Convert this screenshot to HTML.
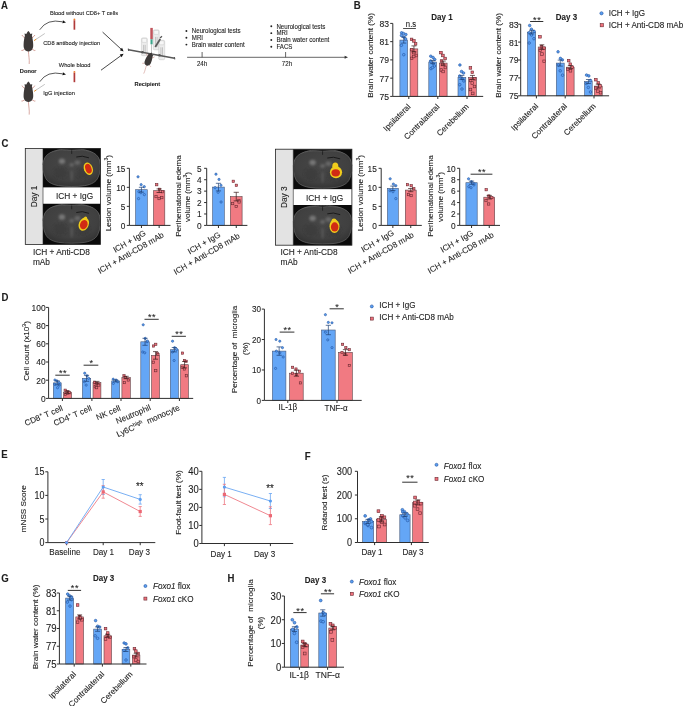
<!DOCTYPE html>
<html><head><meta charset="utf-8"><title>Figure</title>
<style>
html,body{margin:0;padding:0;background:#fff;}
body{width:685px;height:706px;overflow:hidden;}
svg{display:block;font-family:'Liberation Sans', Arial, sans-serif;}
text{stroke:#1e1e1e;stroke-width:0.1px;}
</style></head><body>
<svg width="685" height="706" viewBox="0 0 685 706">
<defs><filter id="blur1" x="-50%" y="-50%" width="200%" height="200%"><feGaussianBlur stdDeviation="1.2"/></filter>
<radialGradient id="brainGrad" cx="0.5" cy="0.4" r="0.6"><stop offset="0" stop-color="#474747"/><stop offset="0.75" stop-color="#404040"/><stop offset="1" stop-color="#353535"/></radialGradient></defs>
<rect width="685" height="706" fill="#fff"/>
<text x="1" y="8.9" font-size="9.6" text-anchor="start" font-weight="bold" fill="#1e1e1e" transform="matrix(1,0,0,1.07,0,-0.39)">A</text>
<text x="49.9" y="14.82" font-size="5.7" text-anchor="start" fill="#1e1e1e" transform="matrix(1,0,0,1.07,0,-0.9)">Blood without CD8+ T cells</text>
<text x="43.2" y="44.42" font-size="5.7" text-anchor="start" fill="#1e1e1e" transform="matrix(1,0,0,1.07,0,-2.97)">CD8 antibody injection</text>
<text x="58.8" y="66.42" font-size="5.7" text-anchor="start" fill="#1e1e1e" transform="matrix(1,0,0,1.07,0,-4.51)">Whole blood</text>
<text x="43.2" y="94.72" font-size="5.7" text-anchor="start" fill="#1e1e1e" transform="matrix(1,0,0,1.07,0,-6.49)">IgG injection</text>
<text x="28.2" y="73" font-size="5.7" text-anchor="middle" font-weight="bold" fill="#1e1e1e" transform="matrix(1,0,0,1.07,0,-4.97)">Donor</text>
<text x="147.4" y="85.7" font-size="5.7" text-anchor="middle" font-weight="bold" fill="#1e1e1e" transform="matrix(1,0,0,1.07,0,-5.86)">Recipient</text>
<g transform="translate(28.4 31) rotate(0) scale(1)">
<path d="M-3.2,7.2 L-5.9,5.0 L-6.4,4.0" stroke="#c47c72" stroke-width="0.7" fill="none"/>
<path d="M-3.8,18.4 L-6.4,19.6 L-7,19.4" stroke="#c47c72" stroke-width="0.7" fill="none"/>
<path d="M3.2,7.2 L5.9,5.0 L6.4,4.0" stroke="#c47c72" stroke-width="0.7" fill="none"/>
<path d="M3.8,18.4 L6.4,19.6 L7,19.4" stroke="#c47c72" stroke-width="0.7" fill="none"/>
<path d="M0,20 C0.2,25 1.2,28 0.8,33" stroke="#c47c72" stroke-width="0.65" fill="none"/>
<path d="M0,0 C0.7,0.5 1.6,2.0 2.1,3.0 L3.9,2.6 L3.5,4.8 C4.0,6.5 4.7,10 4.8,13.5 C5.0,17.4 3.7,20.2 0,20.4 C-3.7,20.2 -5.0,17.4 -4.8,13.5 C-4.7,10 -4.0,6.5 -3.5,4.8 L-3.9,2.6 L-2.1,3.0 C-1.6,2.0 -0.7,0.5 0,0 Z" fill="#3d3938"/>
</g>
<g transform="translate(28.4 81.6) rotate(0) scale(1)">
<path d="M-3.2,7.2 L-5.9,5.0 L-6.4,4.0" stroke="#c47c72" stroke-width="0.7" fill="none"/>
<path d="M-3.8,18.4 L-6.4,19.6 L-7,19.4" stroke="#c47c72" stroke-width="0.7" fill="none"/>
<path d="M3.2,7.2 L5.9,5.0 L6.4,4.0" stroke="#c47c72" stroke-width="0.7" fill="none"/>
<path d="M3.8,18.4 L6.4,19.6 L7,19.4" stroke="#c47c72" stroke-width="0.7" fill="none"/>
<path d="M0,20 C0.2,25 1.2,28 0.8,33" stroke="#c47c72" stroke-width="0.65" fill="none"/>
<path d="M0,0 C0.7,0.5 1.6,2.0 2.1,3.0 L3.9,2.6 L3.5,4.8 C4.0,6.5 4.7,10 4.8,13.5 C5.0,17.4 3.7,20.2 0,20.4 C-3.7,20.2 -5.0,17.4 -4.8,13.5 C-4.7,10 -4.0,6.5 -3.5,4.8 L-3.9,2.6 L-2.1,3.0 C-1.6,2.0 -0.7,0.5 0,0 Z" fill="#3d3938"/>
</g>
<line x1="36" y1="39.3" x2="44.8" y2="33.5" stroke="#a8a8a8" stroke-width="0.7"/>
<line x1="34.1" y1="40.6" x2="36.2" y2="39.2" stroke="#e8902a" stroke-width="1"/>
<line x1="36" y1="90.1" x2="44.8" y2="84.3" stroke="#a8a8a8" stroke-width="0.7"/>
<line x1="34.1" y1="91.4" x2="36.2" y2="90" stroke="#e8902a" stroke-width="1"/>
<path d="M39.7,29.8 Q47,18.5 62.5,21.8" stroke="#222" stroke-width="0.75" fill="none"/>
<path d="M66,22.4 L62.39,23.32 L62.92,20.3 Z" fill="#111"/>
<path d="M39.7,81.8 Q47,70.5 62.5,73.8" stroke="#222" stroke-width="0.75" fill="none"/>
<path d="M66,74.4 L62.39,75.32 L62.92,72.3 Z" fill="#111"/>
<line x1="74.4" y1="20.2" x2="74.4" y2="29.7" stroke="#b03a3a" stroke-width="1.7"/>
<circle cx="74.4" cy="19.4" r="0.95" fill="#ec7d2c"/>
<line x1="74.4" y1="72.7" x2="74.4" y2="82.2" stroke="#b03a3a" stroke-width="1.7"/>
<circle cx="74.4" cy="71.9" r="0.95" fill="#ec7d2c"/>
<line x1="102.6" y1="32.1" x2="121.4" y2="49.4" stroke="#1a1a1a" stroke-width="0.8"/>
<path d="M123.6,51.4 L119.85,50.16 L122.05,47.77 Z" fill="#111"/>
<line x1="101" y1="70.2" x2="121.4" y2="55.3" stroke="#1a1a1a" stroke-width="0.8"/>
<path d="M123.6,53.7 L121.65,57.13 L119.74,54.51 Z" fill="#111"/>
<rect x="141.4" y="37.9" width="5.9" height="17.8" rx="1.2" fill="#ececec" stroke="#c4c4c4" stroke-width="0.5"/>
<rect x="142" y="38.4" width="4.7" height="4" rx="0.8" fill="#f7f7f7" stroke="#bdbdbd" stroke-width="0.4"/>
<line x1="143.6" y1="44.9" x2="143.6" y2="52.7" stroke="#9a9a9a" stroke-width="0.5"/>
<line x1="145.2" y1="44.9" x2="145.2" y2="52.7" stroke="#9a9a9a" stroke-width="0.5"/>
<rect x="153.3" y="29.9" width="5.9" height="19.9" rx="1.2" fill="#ececec" stroke="#c4c4c4" stroke-width="0.5"/>
<rect x="153.9" y="30.4" width="4.7" height="4" rx="0.8" fill="#f7f7f7" stroke="#bdbdbd" stroke-width="0.4"/>
<line x1="155.5" y1="36.9" x2="155.5" y2="46.8" stroke="#9a9a9a" stroke-width="0.5"/>
<line x1="157.1" y1="36.9" x2="157.1" y2="46.8" stroke="#9a9a9a" stroke-width="0.5"/>
<rect x="158.7" y="40.3" width="6" height="19.4" rx="1.2" fill="#ececec" stroke="#c4c4c4" stroke-width="0.5"/>
<rect x="159.3" y="40.8" width="4.8" height="4" rx="0.8" fill="#f7f7f7" stroke="#bdbdbd" stroke-width="0.4"/>
<line x1="160.9" y1="47.3" x2="160.9" y2="56.7" stroke="#9a9a9a" stroke-width="0.5"/>
<line x1="162.5" y1="47.3" x2="162.5" y2="56.7" stroke="#9a9a9a" stroke-width="0.5"/>
<path d="M154.5,46.5 L159.5,38.5 L161,39.5 L156,47.5 Z" fill="#5a5a5a"/>
<path d="M160,38 L162,36.2" stroke="#555" stroke-width="1.2"/>
<line x1="128.5" y1="49.8" x2="174.6" y2="58.2" stroke="#585858" stroke-width="1.5"/>
<line x1="128.3" y1="48.6" x2="128.7" y2="51" stroke="#585858" stroke-width="1.2"/>
<line x1="174.3" y1="57" x2="174.8" y2="59.4" stroke="#585858" stroke-width="1.2"/>
<circle cx="142.5" cy="52.2" r="1.2" fill="#555"/>
<circle cx="159.5" cy="55.3" r="1.2" fill="#555"/>
<rect x="150.3" y="27.9" width="2.5" height="11.4" fill="#c0545c" stroke="none" stroke-width="0.6"/>
<rect x="150.5" y="39.3" width="2.1" height="5" fill="#3aa58a" stroke="none" stroke-width="0.6"/>
<line x1="151.5" y1="44.3" x2="151.5" y2="53.5" stroke="#888" stroke-width="0.5"/>
<g transform="translate(151.6 52.6) rotate(22) scale(0.68)">
<path d="M-3.2,7.2 L-5.9,5.0 L-6.4,4.0" stroke="#c47c72" stroke-width="0.7" fill="none"/>
<path d="M-3.8,18.4 L-6.4,19.6 L-7,19.4" stroke="#c47c72" stroke-width="0.7" fill="none"/>
<path d="M3.2,7.2 L5.9,5.0 L6.4,4.0" stroke="#c47c72" stroke-width="0.7" fill="none"/>
<path d="M3.8,18.4 L6.4,19.6 L7,19.4" stroke="#c47c72" stroke-width="0.7" fill="none"/>
<path d="M0,20 C0.2,25 1.2,28 0.8,33" stroke="#c47c72" stroke-width="0.65" fill="none"/>
<path d="M0,0 C0.7,0.5 1.6,2.0 2.1,3.0 L3.9,2.6 L3.5,4.8 C4.0,6.5 4.7,10 4.8,13.5 C5.0,17.4 3.7,20.2 0,20.4 C-3.7,20.2 -5.0,17.4 -4.8,13.5 C-4.7,10 -4.0,6.5 -3.5,4.8 L-3.9,2.6 L-2.1,3.0 C-1.6,2.0 -0.7,0.5 0,0 Z" fill="#3d3938"/>
</g>
<line x1="187.1" y1="57.3" x2="345.5" y2="57.3" stroke="#333" stroke-width="0.75"/>
<path d="M348,57.3 L344.6,58.83 L344.6,55.77 Z" fill="#333"/>
<line x1="202.1" y1="52" x2="202.1" y2="57.3" stroke="#333" stroke-width="0.75"/>
<line x1="285.6" y1="52" x2="285.6" y2="57.3" stroke="#333" stroke-width="0.75"/>
<text x="202.1" y="66.08" font-size="6.15" text-anchor="middle" fill="#1e1e1e" transform="matrix(1,0,0,1.07,0,-4.48)">24h</text>
<text x="287" y="66.08" font-size="6.15" text-anchor="middle" fill="#1e1e1e" transform="matrix(1,0,0,1.07,0,-4.48)">72h</text>
<circle cx="186.4" cy="31" r="0.95" fill="#222"/>
<text x="191.8" y="33.18" font-size="6.15" text-anchor="start" fill="#1e1e1e" transform="matrix(1,0,0,1.07,0,-2.17)">Neurological tests</text>
<circle cx="186.4" cy="37.8" r="0.95" fill="#222"/>
<text x="191.8" y="39.98" font-size="6.15" text-anchor="start" fill="#1e1e1e" transform="matrix(1,0,0,1.07,0,-2.65)">MRI</text>
<circle cx="186.4" cy="44.6" r="0.95" fill="#222"/>
<text x="191.8" y="46.78" font-size="6.15" text-anchor="start" fill="#1e1e1e" transform="matrix(1,0,0,1.07,0,-3.12)">Brain water content</text>
<circle cx="271.3" cy="26.3" r="0.95" fill="#222"/>
<text x="276.4" y="28.48" font-size="6.15" text-anchor="start" fill="#1e1e1e" transform="matrix(1,0,0,1.07,0,-1.84)">Neurological tests</text>
<circle cx="271.3" cy="33.13" r="0.95" fill="#222"/>
<text x="276.4" y="35.31" font-size="6.15" text-anchor="start" fill="#1e1e1e" transform="matrix(1,0,0,1.07,0,-2.32)">MRI</text>
<circle cx="271.3" cy="39.96" r="0.95" fill="#222"/>
<text x="276.4" y="42.14" font-size="6.15" text-anchor="start" fill="#1e1e1e" transform="matrix(1,0,0,1.07,0,-2.8)">Brain water content</text>
<circle cx="271.3" cy="46.79" r="0.95" fill="#222"/>
<text x="276.4" y="48.97" font-size="6.15" text-anchor="start" fill="#1e1e1e" transform="matrix(1,0,0,1.07,0,-3.28)">FACS</text>
<text x="353.8" y="9" font-size="9.6" text-anchor="start" font-weight="bold" fill="#1e1e1e" transform="matrix(1,0,0,1.07,0,-0.39)">B</text>
<line x1="392.8" y1="23.4" x2="392.8" y2="96.4" stroke="#2e2e2e" stroke-width="1"/>
<line x1="390.2" y1="23.4" x2="392.8" y2="23.4" stroke="#2e2e2e" stroke-width="1"/>
<text x="389" y="26.46" font-size="8.63" text-anchor="end" fill="#1e1e1e" transform="matrix(1,0,0,1.12,0,-2.81)">83</text>
<line x1="390.2" y1="41.65" x2="392.8" y2="41.65" stroke="#2e2e2e" stroke-width="1"/>
<text x="389" y="44.71" font-size="8.63" text-anchor="end" fill="#1e1e1e" transform="matrix(1,0,0,1.12,0,-5)">81</text>
<line x1="390.2" y1="59.9" x2="392.8" y2="59.9" stroke="#2e2e2e" stroke-width="1"/>
<text x="389" y="62.96" font-size="8.63" text-anchor="end" fill="#1e1e1e" transform="matrix(1,0,0,1.12,0,-7.19)">79</text>
<line x1="390.2" y1="78.15" x2="392.8" y2="78.15" stroke="#2e2e2e" stroke-width="1"/>
<text x="389" y="81.21" font-size="8.63" text-anchor="end" fill="#1e1e1e" transform="matrix(1,0,0,1.12,0,-9.38)">77</text>
<line x1="390.2" y1="96.4" x2="392.8" y2="96.4" stroke="#2e2e2e" stroke-width="1"/>
<text x="389" y="99.46" font-size="8.63" text-anchor="end" fill="#1e1e1e" transform="matrix(1,0,0,1.12,0,-11.57)">75</text>
<text x="372.94" y="55.4" font-size="8.12" text-anchor="middle" fill="#1e1e1e" transform="rotate(-90 372.94 55.4)">Brain water content (%)</text>
<rect x="399.9" y="40.1" width="7.7" height="56.3" fill="#64a6f6" stroke="#46597a" stroke-width="0.6"/>
<circle cx="401.61" cy="32.8" r="1.3" fill="#5a9ff3" stroke="#22529e" stroke-width="0.6"/>
<circle cx="403.46" cy="33.5" r="1.3" fill="#5a9ff3" stroke="#22529e" stroke-width="0.6"/>
<circle cx="405.87" cy="34.5" r="1.3" fill="#5a9ff3" stroke="#22529e" stroke-width="0.6"/>
<circle cx="401.4" cy="35.5" r="1.3" fill="#5a9ff3" stroke="#22529e" stroke-width="0.6"/>
<circle cx="403.78" cy="37" r="1.3" fill="#5a9ff3" stroke="#22529e" stroke-width="0.6"/>
<circle cx="405.63" cy="39" r="1.3" fill="#5a9ff3" stroke="#22529e" stroke-width="0.6"/>
<circle cx="401.39" cy="45.3" r="1.3" fill="#5a9ff3" stroke="#22529e" stroke-width="0.6"/>
<circle cx="403.76" cy="54.7" r="1.3" fill="#5a9ff3" stroke="#22529e" stroke-width="0.6"/>
<line x1="403.75" y1="37.1" x2="403.75" y2="43.1" stroke="#1d3f73" stroke-width="0.7"/>
<line x1="401.26" y1="37.1" x2="406.24" y2="37.1" stroke="#1d3f73" stroke-width="0.7"/>
<line x1="401.26" y1="43.1" x2="406.24" y2="43.1" stroke="#1d3f73" stroke-width="0.7"/>
<rect x="410.1" y="48.9" width="7.7" height="47.5" fill="#f17a82" stroke="#5e4246" stroke-width="0.6"/>
<rect x="410.27" y="38.1" width="2.6" height="2.6" fill="#ef707b" stroke="#6a2b32" stroke-width="0.6"/>
<rect x="412.59" y="39.6" width="2.6" height="2.6" fill="#ef707b" stroke="#6a2b32" stroke-width="0.6"/>
<rect x="414.28" y="42.5" width="2.6" height="2.6" fill="#ef707b" stroke="#6a2b32" stroke-width="0.6"/>
<rect x="410.32" y="48.3" width="2.6" height="2.6" fill="#ef707b" stroke="#6a2b32" stroke-width="0.6"/>
<rect x="412.59" y="51.3" width="2.6" height="2.6" fill="#ef707b" stroke="#6a2b32" stroke-width="0.6"/>
<rect x="414.91" y="54.2" width="2.6" height="2.6" fill="#ef707b" stroke="#6a2b32" stroke-width="0.6"/>
<rect x="410.35" y="57.1" width="2.6" height="2.6" fill="#ef707b" stroke="#6a2b32" stroke-width="0.6"/>
<rect x="412.42" y="55.2" width="2.6" height="2.6" fill="#ef707b" stroke="#6a2b32" stroke-width="0.6"/>
<line x1="413.95" y1="45.9" x2="413.95" y2="51.9" stroke="#3a1a1a" stroke-width="0.7"/>
<line x1="411.46" y1="45.9" x2="416.44" y2="45.9" stroke="#3a1a1a" stroke-width="0.7"/>
<line x1="411.46" y1="51.9" x2="416.44" y2="51.9" stroke="#3a1a1a" stroke-width="0.7"/>
<rect x="428.8" y="62" width="7.8" height="34.4" fill="#64a6f6" stroke="#46597a" stroke-width="0.6"/>
<circle cx="430.79" cy="56.2" r="1.3" fill="#5a9ff3" stroke="#22529e" stroke-width="0.6"/>
<circle cx="433.08" cy="57.5" r="1.3" fill="#5a9ff3" stroke="#22529e" stroke-width="0.6"/>
<circle cx="434.78" cy="59.5" r="1.3" fill="#5a9ff3" stroke="#22529e" stroke-width="0.6"/>
<circle cx="430.6" cy="61" r="1.3" fill="#5a9ff3" stroke="#22529e" stroke-width="0.6"/>
<circle cx="433.1" cy="63.5" r="1.3" fill="#5a9ff3" stroke="#22529e" stroke-width="0.6"/>
<circle cx="434.34" cy="66" r="1.3" fill="#5a9ff3" stroke="#22529e" stroke-width="0.6"/>
<circle cx="430.99" cy="68.6" r="1.3" fill="#5a9ff3" stroke="#22529e" stroke-width="0.6"/>
<circle cx="432.52" cy="67.5" r="1.3" fill="#5a9ff3" stroke="#22529e" stroke-width="0.6"/>
<line x1="432.7" y1="60.4" x2="432.7" y2="63.6" stroke="#1d3f73" stroke-width="0.7"/>
<line x1="430.18" y1="60.4" x2="435.22" y2="60.4" stroke="#1d3f73" stroke-width="0.7"/>
<line x1="430.18" y1="63.6" x2="435.22" y2="63.6" stroke="#1d3f73" stroke-width="0.7"/>
<rect x="439.4" y="63.1" width="7.7" height="33.3" fill="#f17a82" stroke="#5e4246" stroke-width="0.6"/>
<rect x="439.66" y="51.3" width="2.6" height="2.6" fill="#ef707b" stroke="#6a2b32" stroke-width="0.6"/>
<rect x="441.63" y="54.2" width="2.6" height="2.6" fill="#ef707b" stroke="#6a2b32" stroke-width="0.6"/>
<rect x="443.78" y="57.2" width="2.6" height="2.6" fill="#ef707b" stroke="#6a2b32" stroke-width="0.6"/>
<rect x="440.22" y="59.7" width="2.6" height="2.6" fill="#ef707b" stroke="#6a2b32" stroke-width="0.6"/>
<rect x="441.69" y="63.2" width="2.6" height="2.6" fill="#ef707b" stroke="#6a2b32" stroke-width="0.6"/>
<rect x="444.01" y="66.2" width="2.6" height="2.6" fill="#ef707b" stroke="#6a2b32" stroke-width="0.6"/>
<rect x="440.07" y="68.7" width="2.6" height="2.6" fill="#ef707b" stroke="#6a2b32" stroke-width="0.6"/>
<rect x="441.84" y="70.2" width="2.6" height="2.6" fill="#ef707b" stroke="#6a2b32" stroke-width="0.6"/>
<line x1="443.25" y1="61.1" x2="443.25" y2="65.1" stroke="#3a1a1a" stroke-width="0.7"/>
<line x1="440.76" y1="61.1" x2="445.74" y2="61.1" stroke="#3a1a1a" stroke-width="0.7"/>
<line x1="440.76" y1="65.1" x2="445.74" y2="65.1" stroke="#3a1a1a" stroke-width="0.7"/>
<rect x="458" y="77.4" width="7.8" height="19" fill="#64a6f6" stroke="#46597a" stroke-width="0.6"/>
<circle cx="459.92" cy="65" r="1.3" fill="#5a9ff3" stroke="#22529e" stroke-width="0.6"/>
<circle cx="461.53" cy="71.5" r="1.3" fill="#5a9ff3" stroke="#22529e" stroke-width="0.6"/>
<circle cx="463.55" cy="73" r="1.3" fill="#5a9ff3" stroke="#22529e" stroke-width="0.6"/>
<circle cx="459.64" cy="76" r="1.3" fill="#5a9ff3" stroke="#22529e" stroke-width="0.6"/>
<circle cx="462.05" cy="78.5" r="1.3" fill="#5a9ff3" stroke="#22529e" stroke-width="0.6"/>
<circle cx="463.86" cy="81" r="1.3" fill="#5a9ff3" stroke="#22529e" stroke-width="0.6"/>
<circle cx="459.73" cy="84.7" r="1.3" fill="#5a9ff3" stroke="#22529e" stroke-width="0.6"/>
<circle cx="461.97" cy="89" r="1.3" fill="#5a9ff3" stroke="#22529e" stroke-width="0.6"/>
<line x1="461.9" y1="75.4" x2="461.9" y2="79.4" stroke="#1d3f73" stroke-width="0.7"/>
<line x1="459.38" y1="75.4" x2="464.42" y2="75.4" stroke="#1d3f73" stroke-width="0.7"/>
<line x1="459.38" y1="79.4" x2="464.42" y2="79.4" stroke="#1d3f73" stroke-width="0.7"/>
<rect x="468.6" y="77.4" width="7.7" height="19" fill="#f17a82" stroke="#5e4246" stroke-width="0.6"/>
<rect x="469.12" y="66.6" width="2.6" height="2.6" fill="#ef707b" stroke="#6a2b32" stroke-width="0.6"/>
<rect x="470.98" y="71" width="2.6" height="2.6" fill="#ef707b" stroke="#6a2b32" stroke-width="0.6"/>
<rect x="473.39" y="77.5" width="2.6" height="2.6" fill="#ef707b" stroke="#6a2b32" stroke-width="0.6"/>
<rect x="469.32" y="79.2" width="2.6" height="2.6" fill="#ef707b" stroke="#6a2b32" stroke-width="0.6"/>
<rect x="470.94" y="81.7" width="2.6" height="2.6" fill="#ef707b" stroke="#6a2b32" stroke-width="0.6"/>
<rect x="473.2" y="85.2" width="2.6" height="2.6" fill="#ef707b" stroke="#6a2b32" stroke-width="0.6"/>
<rect x="469.18" y="88.2" width="2.6" height="2.6" fill="#ef707b" stroke="#6a2b32" stroke-width="0.6"/>
<rect x="471.46" y="92.1" width="2.6" height="2.6" fill="#ef707b" stroke="#6a2b32" stroke-width="0.6"/>
<line x1="472.45" y1="75.4" x2="472.45" y2="79.4" stroke="#3a1a1a" stroke-width="0.7"/>
<line x1="469.96" y1="75.4" x2="474.94" y2="75.4" stroke="#3a1a1a" stroke-width="0.7"/>
<line x1="469.96" y1="79.4" x2="474.94" y2="79.4" stroke="#3a1a1a" stroke-width="0.7"/>
<line x1="392.8" y1="96.4" x2="483.2" y2="96.4" stroke="#2e2e2e" stroke-width="1"/>
<line x1="408.8" y1="96.4" x2="408.8" y2="99" stroke="#2e2e2e" stroke-width="1"/>
<line x1="437.8" y1="96.4" x2="437.8" y2="99" stroke="#2e2e2e" stroke-width="1"/>
<line x1="467" y1="96.4" x2="467" y2="99" stroke="#2e2e2e" stroke-width="1"/>
<text x="411.1" y="107.2" font-size="8.12" text-anchor="end" fill="#1e1e1e" transform="rotate(-45 411.1 107.2)">Ipsilateral</text>
<text x="440.1" y="107.2" font-size="8.12" text-anchor="end" fill="#1e1e1e" transform="rotate(-45 440.1 107.2)">Contralateral</text>
<text x="469.3" y="107.2" font-size="8.12" text-anchor="end" fill="#1e1e1e" transform="rotate(-45 469.3 107.2)">Cerebellum</text>
<text x="442" y="20" font-size="8" text-anchor="middle" font-weight="bold" fill="#1e1e1e" transform="matrix(1,0,0,1.07,0,-1.2)">Day 1</text>
<line x1="403.1" y1="28.5" x2="415.9" y2="28.5" stroke="#222" stroke-width="0.8"/>
<text x="411" y="26.4" font-size="7.71" text-anchor="middle" fill="#1e1e1e" transform="matrix(1,0,0,1.07,0,-1.66)">n.s</text>
<line x1="520.7" y1="24.2" x2="520.7" y2="95.8" stroke="#2e2e2e" stroke-width="1"/>
<line x1="518.1" y1="24.2" x2="520.7" y2="24.2" stroke="#2e2e2e" stroke-width="1"/>
<text x="518.5" y="27.26" font-size="8.63" text-anchor="end" fill="#1e1e1e" transform="matrix(1,0,0,1.12,0,-2.91)">83</text>
<line x1="518.1" y1="42.1" x2="520.7" y2="42.1" stroke="#2e2e2e" stroke-width="1"/>
<text x="518.5" y="45.16" font-size="8.63" text-anchor="end" fill="#1e1e1e" transform="matrix(1,0,0,1.12,0,-5.06)">81</text>
<line x1="518.1" y1="60" x2="520.7" y2="60" stroke="#2e2e2e" stroke-width="1"/>
<text x="518.5" y="63.06" font-size="8.63" text-anchor="end" fill="#1e1e1e" transform="matrix(1,0,0,1.12,0,-7.2)">79</text>
<line x1="518.1" y1="77.9" x2="520.7" y2="77.9" stroke="#2e2e2e" stroke-width="1"/>
<text x="518.5" y="80.96" font-size="8.63" text-anchor="end" fill="#1e1e1e" transform="matrix(1,0,0,1.12,0,-9.35)">77</text>
<line x1="518.1" y1="95.8" x2="520.7" y2="95.8" stroke="#2e2e2e" stroke-width="1"/>
<text x="518.5" y="98.86" font-size="8.63" text-anchor="end" fill="#1e1e1e" transform="matrix(1,0,0,1.12,0,-11.5)">75</text>
<text x="501.04" y="55.4" font-size="8.12" text-anchor="middle" fill="#1e1e1e" transform="rotate(-90 501.04 55.4)">Brain water content (%)</text>
<rect x="527.5" y="32.1" width="8.2" height="63.7" fill="#64a6f6" stroke="#46597a" stroke-width="0.6"/>
<circle cx="529.69" cy="25.5" r="1.3" fill="#5a9ff3" stroke="#22529e" stroke-width="0.6"/>
<circle cx="531.41" cy="29.2" r="1.3" fill="#5a9ff3" stroke="#22529e" stroke-width="0.6"/>
<circle cx="534.13" cy="31.4" r="1.3" fill="#5a9ff3" stroke="#22529e" stroke-width="0.6"/>
<circle cx="529.15" cy="32.8" r="1.3" fill="#5a9ff3" stroke="#22529e" stroke-width="0.6"/>
<circle cx="531.53" cy="35" r="1.3" fill="#5a9ff3" stroke="#22529e" stroke-width="0.6"/>
<circle cx="533.94" cy="38.7" r="1.3" fill="#5a9ff3" stroke="#22529e" stroke-width="0.6"/>
<circle cx="529.18" cy="43" r="1.3" fill="#5a9ff3" stroke="#22529e" stroke-width="0.6"/>
<line x1="531.6" y1="30.3" x2="531.6" y2="33.9" stroke="#1d3f73" stroke-width="0.7"/>
<line x1="529" y1="30.3" x2="534.2" y2="30.3" stroke="#1d3f73" stroke-width="0.7"/>
<line x1="529" y1="33.9" x2="534.2" y2="33.9" stroke="#1d3f73" stroke-width="0.7"/>
<rect x="538.2" y="47" width="7.4" height="48.8" fill="#f17a82" stroke="#5e4246" stroke-width="0.6"/>
<rect x="538.67" y="35.5" width="2.6" height="2.6" fill="#ef707b" stroke="#6a2b32" stroke-width="0.6"/>
<rect x="540.23" y="45.4" width="2.6" height="2.6" fill="#ef707b" stroke="#6a2b32" stroke-width="0.6"/>
<rect x="542.65" y="46.9" width="2.6" height="2.6" fill="#ef707b" stroke="#6a2b32" stroke-width="0.6"/>
<rect x="538.89" y="49.1" width="2.6" height="2.6" fill="#ef707b" stroke="#6a2b32" stroke-width="0.6"/>
<rect x="540.66" y="52.7" width="2.6" height="2.6" fill="#ef707b" stroke="#6a2b32" stroke-width="0.6"/>
<rect x="542.82" y="60" width="2.6" height="2.6" fill="#ef707b" stroke="#6a2b32" stroke-width="0.6"/>
<line x1="541.9" y1="44.8" x2="541.9" y2="49.2" stroke="#3a1a1a" stroke-width="0.7"/>
<line x1="539.5" y1="44.8" x2="544.3" y2="44.8" stroke="#3a1a1a" stroke-width="0.7"/>
<line x1="539.5" y1="49.2" x2="544.3" y2="49.2" stroke="#3a1a1a" stroke-width="0.7"/>
<rect x="556.3" y="63.1" width="7.9" height="32.7" fill="#64a6f6" stroke="#46597a" stroke-width="0.6"/>
<circle cx="558.05" cy="51.8" r="1.3" fill="#5a9ff3" stroke="#22529e" stroke-width="0.6"/>
<circle cx="560.42" cy="58.4" r="1.3" fill="#5a9ff3" stroke="#22529e" stroke-width="0.6"/>
<circle cx="562.37" cy="59.9" r="1.3" fill="#5a9ff3" stroke="#22529e" stroke-width="0.6"/>
<circle cx="558.28" cy="65" r="1.3" fill="#5a9ff3" stroke="#22529e" stroke-width="0.6"/>
<circle cx="560.21" cy="70.8" r="1.3" fill="#5a9ff3" stroke="#22529e" stroke-width="0.6"/>
<circle cx="562.58" cy="75.2" r="1.3" fill="#5a9ff3" stroke="#22529e" stroke-width="0.6"/>
<line x1="560.25" y1="60.1" x2="560.25" y2="66.1" stroke="#1d3f73" stroke-width="0.7"/>
<line x1="557.7" y1="60.1" x2="562.8" y2="60.1" stroke="#1d3f73" stroke-width="0.7"/>
<line x1="557.7" y1="66.1" x2="562.8" y2="66.1" stroke="#1d3f73" stroke-width="0.7"/>
<rect x="566.5" y="67.2" width="7.6" height="28.6" fill="#f17a82" stroke="#5e4246" stroke-width="0.6"/>
<rect x="567.4" y="59.3" width="2.6" height="2.6" fill="#ef707b" stroke="#6a2b32" stroke-width="0.6"/>
<rect x="568.98" y="62.9" width="2.6" height="2.6" fill="#ef707b" stroke="#6a2b32" stroke-width="0.6"/>
<rect x="571.1" y="65.9" width="2.6" height="2.6" fill="#ef707b" stroke="#6a2b32" stroke-width="0.6"/>
<rect x="566.67" y="68" width="2.6" height="2.6" fill="#ef707b" stroke="#6a2b32" stroke-width="0.6"/>
<rect x="569.17" y="69.5" width="2.6" height="2.6" fill="#ef707b" stroke="#6a2b32" stroke-width="0.6"/>
<line x1="570.3" y1="65.6" x2="570.3" y2="68.8" stroke="#3a1a1a" stroke-width="0.7"/>
<line x1="567.84" y1="65.6" x2="572.76" y2="65.6" stroke="#3a1a1a" stroke-width="0.7"/>
<line x1="567.84" y1="68.8" x2="572.76" y2="68.8" stroke="#3a1a1a" stroke-width="0.7"/>
<rect x="584.6" y="81.5" width="7.6" height="14.3" fill="#64a6f6" stroke="#46597a" stroke-width="0.6"/>
<circle cx="586.55" cy="75.1" r="1.3" fill="#5a9ff3" stroke="#22529e" stroke-width="0.6"/>
<circle cx="588.8" cy="75.9" r="1.3" fill="#5a9ff3" stroke="#22529e" stroke-width="0.6"/>
<circle cx="590.63" cy="80.5" r="1.3" fill="#5a9ff3" stroke="#22529e" stroke-width="0.6"/>
<circle cx="586.26" cy="83.5" r="1.3" fill="#5a9ff3" stroke="#22529e" stroke-width="0.6"/>
<circle cx="588.31" cy="87.4" r="1.3" fill="#5a9ff3" stroke="#22529e" stroke-width="0.6"/>
<circle cx="590.51" cy="92" r="1.3" fill="#5a9ff3" stroke="#22529e" stroke-width="0.6"/>
<line x1="588.4" y1="79.5" x2="588.4" y2="83.5" stroke="#1d3f73" stroke-width="0.7"/>
<line x1="585.94" y1="79.5" x2="590.86" y2="79.5" stroke="#1d3f73" stroke-width="0.7"/>
<line x1="585.94" y1="83.5" x2="590.86" y2="83.5" stroke="#1d3f73" stroke-width="0.7"/>
<rect x="594.4" y="86.1" width="7.8" height="9.7" fill="#f17a82" stroke="#5e4246" stroke-width="0.6"/>
<rect x="594.58" y="78.4" width="2.6" height="2.6" fill="#ef707b" stroke="#6a2b32" stroke-width="0.6"/>
<rect x="596.97" y="81.5" width="2.6" height="2.6" fill="#ef707b" stroke="#6a2b32" stroke-width="0.6"/>
<rect x="598.74" y="84.5" width="2.6" height="2.6" fill="#ef707b" stroke="#6a2b32" stroke-width="0.6"/>
<rect x="594.66" y="86.8" width="2.6" height="2.6" fill="#ef707b" stroke="#6a2b32" stroke-width="0.6"/>
<rect x="596.63" y="89.9" width="2.6" height="2.6" fill="#ef707b" stroke="#6a2b32" stroke-width="0.6"/>
<rect x="599.24" y="91.4" width="2.6" height="2.6" fill="#ef707b" stroke="#6a2b32" stroke-width="0.6"/>
<line x1="598.3" y1="84.1" x2="598.3" y2="88.1" stroke="#3a1a1a" stroke-width="0.7"/>
<line x1="595.78" y1="84.1" x2="600.82" y2="84.1" stroke="#3a1a1a" stroke-width="0.7"/>
<line x1="595.78" y1="88.1" x2="600.82" y2="88.1" stroke="#3a1a1a" stroke-width="0.7"/>
<line x1="520.7" y1="95.8" x2="609.1" y2="95.8" stroke="#2e2e2e" stroke-width="1"/>
<line x1="536.4" y1="95.8" x2="536.4" y2="98.4" stroke="#2e2e2e" stroke-width="1"/>
<line x1="565.2" y1="95.8" x2="565.2" y2="98.4" stroke="#2e2e2e" stroke-width="1"/>
<line x1="594" y1="95.8" x2="594" y2="98.4" stroke="#2e2e2e" stroke-width="1"/>
<text x="538.7" y="106.6" font-size="8.12" text-anchor="end" fill="#1e1e1e" transform="rotate(-45 538.7 106.6)">Ipsilateral</text>
<text x="567.5" y="106.6" font-size="8.12" text-anchor="end" fill="#1e1e1e" transform="rotate(-45 567.5 106.6)">Contralateral</text>
<text x="596.3" y="106.6" font-size="8.12" text-anchor="end" fill="#1e1e1e" transform="rotate(-45 596.3 106.6)">Cerebellum</text>
<text x="566.5" y="19.4" font-size="8" text-anchor="middle" font-weight="bold" fill="#1e1e1e" transform="matrix(1,0,0,1.07,0,-1.16)">Day 3</text>
<line x1="530.1" y1="21.5" x2="543.3" y2="21.5" stroke="#1a1a1a" stroke-width="0.9"/>
<text x="537.2" y="22.3" font-size="9" text-anchor="middle" fill="#1e1e1e" transform="matrix(1,0,0,1.07,0,-1.34)" letter-spacing="0.6">**</text>
<circle cx="601.5" cy="13.3" r="1.6" fill="#5a9ff3" stroke="#22529e" stroke-width="0.6"/>
<rect x="600.2" y="23.6" width="3.2" height="3.2" fill="#ef707b" stroke="#6a2b32" stroke-width="0.6"/>
<text x="608.7" y="15.88" font-size="8.12" text-anchor="start" fill="#1e1e1e" transform="matrix(1,0,0,1.07,0,-0.91)">ICH + IgG</text>
<text x="608.7" y="27.68" font-size="8.12" text-anchor="start" fill="#1e1e1e" transform="matrix(1,0,0,1.07,0,-1.74)">ICH + Anti-CD8 mAb</text>
<text x="1.5" y="146.9" font-size="9.6" text-anchor="start" font-weight="bold" fill="#1e1e1e" transform="matrix(1,0,0,1.07,0,-10.05)">C</text>
<rect x="25.3" y="148.4" width="17.7" height="96" fill="#e3e3e3" stroke="none" stroke-width="0.6"/>
<g>
<rect x="43" y="148.4" width="57.4" height="39.2" fill="#0a0a0a" stroke="none" stroke-width="0.6"/>
<path d="M43,164.86 C44.15,153.1 55.63,148.4 71.7,148.79 C87.77,148.4 99.25,153.1 100.4,164.86" fill="none" stroke="#5a5a5a" stroke-width="0.7"/>
<path d="M71.7,150.36 C84.33,148.79 97.53,150.75 99.83,160.94 C100.97,167.22 100.4,172.7 98.1,177.41 C96.38,181.72 91.79,184.46 84.9,185.64 C77.44,186.82 65.96,186.82 58.5,185.64 C51.61,184.46 47.02,181.72 45.3,177.41 C43,172.7 42.43,167.22 43.57,160.94 C45.87,150.75 59.07,148.79 71.7,150.36 Z" fill="url(#brainGrad)" stroke="#707070" stroke-width="0.6"/>
<g filter="url(#blur1)">
<ellipse cx="61.94" cy="161.34" rx="3.16" ry="2.74" fill="#8a8a8a" opacity="0.7"/>
<ellipse cx="77.44" cy="162.51" rx="2.87" ry="2.35" fill="#7a7a7a" opacity="0.6"/>
<ellipse cx="71.7" cy="164.86" rx="2.3" ry="1.96" fill="#7a7a7a" opacity="0.6"/>
<ellipse cx="71.7" cy="175.84" rx="0.86" ry="5.49" fill="#777" opacity="0.5"/>
<ellipse cx="60.22" cy="172.7" rx="6.89" ry="5.88" fill="#383838" opacity="0.5"/>
<ellipse cx="83.18" cy="173.49" rx="6.89" ry="5.88" fill="#383838" opacity="0.5"/>
</g>
<path d="M76.29,157.02 Q82.03,155.06 88.92,157.81" fill="none" stroke="#151515" stroke-width="0.9"/>
<path d="M71.7,150.36 L71.7,153.89" stroke="#1a1a1a" stroke-width="0.8"/>
<ellipse cx="88.3" cy="168.8" rx="4.4" ry="6.4" fill="#f0cc1c" transform="rotate(-20 88.3 168.8)"/>
<ellipse cx="88.4" cy="168.6" rx="3" ry="4.9" fill="#d12a14" transform="rotate(-20 88.4 168.6)"/>
</g>
<g>
<rect x="43" y="203.5" width="57.4" height="40.9" fill="#0a0a0a" stroke="none" stroke-width="0.6"/>
<path d="M43,220.68 C44.15,208.41 55.63,203.5 71.7,203.91 C87.77,203.5 99.25,208.41 100.4,220.68" fill="none" stroke="#5a5a5a" stroke-width="0.7"/>
<path d="M71.7,205.54 C84.33,203.91 97.53,205.95 99.83,216.59 C100.97,223.13 100.4,228.86 98.1,233.77 C96.38,238.26 91.79,241.13 84.9,242.36 C77.44,243.58 65.96,243.58 58.5,242.36 C51.61,241.13 47.02,238.26 45.3,233.77 C43,228.86 42.43,223.13 43.57,216.59 C45.87,205.95 59.07,203.91 71.7,205.54 Z" fill="url(#brainGrad)" stroke="#707070" stroke-width="0.6"/>
<g filter="url(#blur1)">
<ellipse cx="61.94" cy="217" rx="3.16" ry="2.86" fill="#8a8a8a" opacity="0.7"/>
<ellipse cx="77.44" cy="218.22" rx="2.87" ry="2.45" fill="#7a7a7a" opacity="0.6"/>
<ellipse cx="71.7" cy="220.68" rx="2.3" ry="2.05" fill="#7a7a7a" opacity="0.6"/>
<ellipse cx="71.7" cy="232.13" rx="0.86" ry="5.73" fill="#777" opacity="0.5"/>
<ellipse cx="60.22" cy="228.86" rx="6.89" ry="6.14" fill="#383838" opacity="0.5"/>
<ellipse cx="83.18" cy="229.68" rx="6.89" ry="6.14" fill="#383838" opacity="0.5"/>
</g>
<path d="M76.29,212.5 Q82.03,210.45 88.92,213.32" fill="none" stroke="#151515" stroke-width="0.9"/>
<path d="M71.7,205.54 L71.7,209.23" stroke="#1a1a1a" stroke-width="0.8"/>
<ellipse cx="83.8" cy="224.2" rx="5" ry="6.8" fill="#f0cc1c" transform="rotate(22 83.8 224.2)"/>
<ellipse cx="85.6" cy="218.6" rx="1.6" ry="2.2" fill="#f0cc1c" transform="rotate(0 85.6 218.6)"/>
<ellipse cx="83.8" cy="224.6" rx="3.7" ry="4.7" fill="#d12a14" transform="rotate(22 83.8 224.6)"/>
</g>
<rect x="43" y="187.6" width="57.4" height="15.9" fill="#ffffff" stroke="none" stroke-width="0.6"/>
<rect x="25.3" y="148.4" width="75.1" height="96" fill="none" stroke="#222" stroke-width="0.8"/>
<line x1="43" y1="148.4" x2="43" y2="244.4" stroke="#222" stroke-width="0.6"/>
<text x="37.1" y="196.4" font-size="8.32" text-anchor="middle" fill="#1e1e1e" transform="rotate(-90 37.1 196.4)">Day 1</text>
<text x="74.5" y="199.25" font-size="8.32" text-anchor="middle" fill="#1e1e1e" transform="matrix(1,0,0,1.07,0,-13.74)">ICH + IgG</text>
<text x="32.9" y="255" font-size="8.32" text-anchor="start" fill="#1e1e1e" transform="matrix(1,0,0,1.07,0,-17.65)">ICH + Anti-CD8</text>
<text x="32.9" y="265.1" font-size="8.32" text-anchor="start" fill="#1e1e1e" transform="matrix(1,0,0,1.07,0,-18.35)">mAb</text>
<line x1="129.4" y1="168.3" x2="129.4" y2="225.4" stroke="#2e2e2e" stroke-width="1"/>
<line x1="126.8" y1="168.3" x2="129.4" y2="168.3" stroke="#2e2e2e" stroke-width="1"/>
<text x="125.4" y="171.25" font-size="8.32" text-anchor="end" fill="#1e1e1e" transform="matrix(1,0,0,1.12,0,-20.2)">15</text>
<line x1="126.8" y1="187.33" x2="129.4" y2="187.33" stroke="#2e2e2e" stroke-width="1"/>
<text x="125.4" y="190.29" font-size="8.32" text-anchor="end" fill="#1e1e1e" transform="matrix(1,0,0,1.12,0,-22.48)">10</text>
<line x1="126.8" y1="206.37" x2="129.4" y2="206.37" stroke="#2e2e2e" stroke-width="1"/>
<text x="125.4" y="209.32" font-size="8.32" text-anchor="end" fill="#1e1e1e" transform="matrix(1,0,0,1.12,0,-24.77)">5</text>
<line x1="126.8" y1="225.4" x2="129.4" y2="225.4" stroke="#2e2e2e" stroke-width="1"/>
<text x="125.4" y="228.35" font-size="8.32" text-anchor="end" fill="#1e1e1e" transform="matrix(1,0,0,1.12,0,-27.05)">0</text>
<rect x="135.6" y="189.7" width="11.7" height="35.7" fill="#64a6f6" stroke="#46597a" stroke-width="0.6"/>
<circle cx="138.04" cy="176.8" r="1.15" fill="#5a9ff3" stroke="#22529e" stroke-width="0.6"/>
<circle cx="141.14" cy="184.7" r="1.15" fill="#5a9ff3" stroke="#22529e" stroke-width="0.6"/>
<circle cx="144.27" cy="186.7" r="1.15" fill="#5a9ff3" stroke="#22529e" stroke-width="0.6"/>
<circle cx="138.95" cy="191.7" r="1.15" fill="#5a9ff3" stroke="#22529e" stroke-width="0.6"/>
<circle cx="140.93" cy="192.7" r="1.15" fill="#5a9ff3" stroke="#22529e" stroke-width="0.6"/>
<circle cx="144.34" cy="194.6" r="1.15" fill="#5a9ff3" stroke="#22529e" stroke-width="0.6"/>
<circle cx="138.56" cy="198.6" r="1.15" fill="#5a9ff3" stroke="#22529e" stroke-width="0.6"/>
<line x1="141.45" y1="187.3" x2="141.45" y2="192.1" stroke="#1d3f73" stroke-width="0.7"/>
<line x1="138.85" y1="187.3" x2="144.05" y2="187.3" stroke="#1d3f73" stroke-width="0.7"/>
<line x1="138.85" y1="192.1" x2="144.05" y2="192.1" stroke="#1d3f73" stroke-width="0.7"/>
<rect x="153.5" y="190.7" width="11.3" height="34.7" fill="#f17a82" stroke="#5e4246" stroke-width="0.6"/>
<rect x="155.6" y="183.55" width="2.3" height="2.3" fill="#ef707b" stroke="#6a2b32" stroke-width="0.6"/>
<rect x="158.38" y="188.15" width="2.3" height="2.3" fill="#ef707b" stroke="#6a2b32" stroke-width="0.6"/>
<rect x="161.29" y="190.55" width="2.3" height="2.3" fill="#ef707b" stroke="#6a2b32" stroke-width="0.6"/>
<rect x="154.88" y="195.45" width="2.3" height="2.3" fill="#ef707b" stroke="#6a2b32" stroke-width="0.6"/>
<rect x="157.9" y="197.45" width="2.3" height="2.3" fill="#ef707b" stroke="#6a2b32" stroke-width="0.6"/>
<rect x="160.69" y="196.45" width="2.3" height="2.3" fill="#ef707b" stroke="#6a2b32" stroke-width="0.6"/>
<line x1="159.15" y1="188.9" x2="159.15" y2="192.5" stroke="#3a1a1a" stroke-width="0.7"/>
<line x1="156.55" y1="188.9" x2="161.75" y2="188.9" stroke="#3a1a1a" stroke-width="0.7"/>
<line x1="156.55" y1="192.5" x2="161.75" y2="192.5" stroke="#3a1a1a" stroke-width="0.7"/>
<line x1="129.4" y1="225.4" x2="170.5" y2="225.4" stroke="#2e2e2e" stroke-width="1"/>
<line x1="141.45" y1="225.4" x2="141.45" y2="228" stroke="#2e2e2e" stroke-width="1"/>
<line x1="159.15" y1="225.4" x2="159.15" y2="228" stroke="#2e2e2e" stroke-width="1"/>
<text x="111.14" y="193.2" font-size="8.12" text-anchor="middle" fill="#1e1e1e" transform="rotate(-90 111.14 193.2)">Lesion volume (mm<tspan dy="-3" font-size="5">3</tspan><tspan dy="3">)</tspan></text>
<text x="146.6" y="234.7" font-size="8.12" text-anchor="end" fill="#1e1e1e" transform="rotate(-30 146.6 234.7)">ICH + IgG</text>
<text x="164.5" y="236.6" font-size="8.12" text-anchor="end" fill="#1e1e1e" transform="rotate(-30 164.5 236.6)">ICH + Anti-CD8 mAb</text>
<line x1="206.7" y1="168.3" x2="206.7" y2="225.4" stroke="#2e2e2e" stroke-width="1"/>
<line x1="204.1" y1="168.3" x2="206.7" y2="168.3" stroke="#2e2e2e" stroke-width="1"/>
<text x="201.7" y="171.25" font-size="8.32" text-anchor="end" fill="#1e1e1e" transform="matrix(1,0,0,1.12,0,-20.2)">5</text>
<line x1="204.1" y1="179.72" x2="206.7" y2="179.72" stroke="#2e2e2e" stroke-width="1"/>
<text x="201.7" y="182.67" font-size="8.32" text-anchor="end" fill="#1e1e1e" transform="matrix(1,0,0,1.12,0,-21.57)">4</text>
<line x1="204.1" y1="191.14" x2="206.7" y2="191.14" stroke="#2e2e2e" stroke-width="1"/>
<text x="201.7" y="194.09" font-size="8.32" text-anchor="end" fill="#1e1e1e" transform="matrix(1,0,0,1.12,0,-22.94)">3</text>
<line x1="204.1" y1="202.56" x2="206.7" y2="202.56" stroke="#2e2e2e" stroke-width="1"/>
<text x="201.7" y="205.51" font-size="8.32" text-anchor="end" fill="#1e1e1e" transform="matrix(1,0,0,1.12,0,-24.31)">2</text>
<line x1="204.1" y1="213.98" x2="206.7" y2="213.98" stroke="#2e2e2e" stroke-width="1"/>
<text x="201.7" y="216.93" font-size="8.32" text-anchor="end" fill="#1e1e1e" transform="matrix(1,0,0,1.12,0,-25.68)">1</text>
<line x1="204.1" y1="225.4" x2="206.7" y2="225.4" stroke="#2e2e2e" stroke-width="1"/>
<text x="201.7" y="228.35" font-size="8.32" text-anchor="end" fill="#1e1e1e" transform="matrix(1,0,0,1.12,0,-27.05)">0</text>
<rect x="212.6" y="187.1" width="11.7" height="38.3" fill="#64a6f6" stroke="#46597a" stroke-width="0.6"/>
<circle cx="215.97" cy="174.2" r="1.15" fill="#5a9ff3" stroke="#22529e" stroke-width="0.6"/>
<circle cx="219.01" cy="179.4" r="1.15" fill="#5a9ff3" stroke="#22529e" stroke-width="0.6"/>
<circle cx="220.97" cy="185.3" r="1.15" fill="#5a9ff3" stroke="#22529e" stroke-width="0.6"/>
<circle cx="215.1" cy="187.7" r="1.15" fill="#5a9ff3" stroke="#22529e" stroke-width="0.6"/>
<circle cx="218.12" cy="192.3" r="1.15" fill="#5a9ff3" stroke="#22529e" stroke-width="0.6"/>
<circle cx="221.07" cy="202" r="1.15" fill="#5a9ff3" stroke="#22529e" stroke-width="0.6"/>
<line x1="218.45" y1="183.3" x2="218.45" y2="190.9" stroke="#1d3f73" stroke-width="0.7"/>
<line x1="215.85" y1="183.3" x2="221.05" y2="183.3" stroke="#1d3f73" stroke-width="0.7"/>
<line x1="215.85" y1="190.9" x2="221.05" y2="190.9" stroke="#1d3f73" stroke-width="0.7"/>
<rect x="230.4" y="196.6" width="11.7" height="28.8" fill="#f17a82" stroke="#5e4246" stroke-width="0.6"/>
<rect x="232.13" y="180.15" width="2.3" height="2.3" fill="#ef707b" stroke="#6a2b32" stroke-width="0.6"/>
<rect x="235.21" y="184.15" width="2.3" height="2.3" fill="#ef707b" stroke="#6a2b32" stroke-width="0.6"/>
<rect x="237.76" y="199.45" width="2.3" height="2.3" fill="#ef707b" stroke="#6a2b32" stroke-width="0.6"/>
<rect x="231.54" y="202.45" width="2.3" height="2.3" fill="#ef707b" stroke="#6a2b32" stroke-width="0.6"/>
<rect x="235" y="205.35" width="2.3" height="2.3" fill="#ef707b" stroke="#6a2b32" stroke-width="0.6"/>
<rect x="237.89" y="200.85" width="2.3" height="2.3" fill="#ef707b" stroke="#6a2b32" stroke-width="0.6"/>
<line x1="236.25" y1="192.3" x2="236.25" y2="200.9" stroke="#3a1a1a" stroke-width="0.7"/>
<line x1="233.65" y1="192.3" x2="238.85" y2="192.3" stroke="#3a1a1a" stroke-width="0.7"/>
<line x1="233.65" y1="200.9" x2="238.85" y2="200.9" stroke="#3a1a1a" stroke-width="0.7"/>
<line x1="206.7" y1="225.4" x2="247.4" y2="225.4" stroke="#2e2e2e" stroke-width="1"/>
<line x1="218.45" y1="225.4" x2="218.45" y2="228" stroke="#2e2e2e" stroke-width="1"/>
<line x1="236.25" y1="225.4" x2="236.25" y2="228" stroke="#2e2e2e" stroke-width="1"/>
<text x="181.14" y="196" font-size="8.12" text-anchor="middle" fill="#1e1e1e" transform="rotate(-90 181.14 196)">Perihematomal edema</text>
<text x="189.74" y="197" font-size="8.12" text-anchor="middle" fill="#1e1e1e" transform="rotate(-90 189.74 197)">volume (mm<tspan dy="-3" font-size="5">3</tspan><tspan dy="3">)</tspan></text>
<text x="221.2" y="236.3" font-size="8.12" text-anchor="end" fill="#1e1e1e" transform="rotate(-30 221.2 236.3)">ICH + IgG</text>
<text x="240.4" y="237.6" font-size="8.12" text-anchor="end" fill="#1e1e1e" transform="rotate(-30 240.4 237.6)">ICH + Anti-CD8 mAb</text>
<rect x="275.4" y="149.2" width="17.9" height="96" fill="#e3e3e3" stroke="none" stroke-width="0.6"/>
<g>
<rect x="293.3" y="149.2" width="58.6" height="40.2" fill="#0a0a0a" stroke="none" stroke-width="0.6"/>
<path d="M293.3,166.08 C294.47,154.02 306.19,149.2 322.6,149.6 C339.01,149.2 350.73,154.02 351.9,166.08" fill="none" stroke="#5a5a5a" stroke-width="0.7"/>
<path d="M322.6,151.21 C335.49,149.6 348.97,151.61 351.31,162.06 C352.49,168.5 351.9,174.12 349.56,178.95 C347.8,183.37 343.11,186.18 336.08,187.39 C328.46,188.6 316.74,188.6 309.12,187.39 C302.09,186.18 297.4,183.37 295.64,178.95 C293.3,174.12 292.71,168.5 293.89,162.06 C296.23,151.61 309.71,149.6 322.6,151.21 Z" fill="url(#brainGrad)" stroke="#707070" stroke-width="0.6"/>
<g filter="url(#blur1)">
<ellipse cx="312.64" cy="162.47" rx="3.22" ry="2.81" fill="#8a8a8a" opacity="0.7"/>
<ellipse cx="328.46" cy="163.67" rx="2.93" ry="2.41" fill="#7a7a7a" opacity="0.6"/>
<ellipse cx="322.6" cy="166.08" rx="2.34" ry="2.01" fill="#7a7a7a" opacity="0.6"/>
<ellipse cx="322.6" cy="177.34" rx="0.88" ry="5.63" fill="#777" opacity="0.5"/>
<ellipse cx="310.88" cy="174.12" rx="7.03" ry="6.03" fill="#383838" opacity="0.5"/>
<ellipse cx="334.32" cy="174.93" rx="7.03" ry="6.03" fill="#383838" opacity="0.5"/>
</g>
<path d="M327.29,158.04 Q333.15,156.03 340.18,158.85" fill="none" stroke="#151515" stroke-width="0.9"/>
<path d="M322.6,151.21 L322.6,154.83" stroke="#1a1a1a" stroke-width="0.8"/>
<ellipse cx="336" cy="172.3" rx="6.1" ry="6" fill="#f0cc1c" transform="rotate(0 336 172.3)"/>
<ellipse cx="335.3" cy="166.2" rx="3" ry="3.6" fill="#f0cc1c" transform="rotate(0 335.3 166.2)"/>
<ellipse cx="335.7" cy="172.8" rx="4.3" ry="3.6" fill="#d12a14" transform="rotate(0 335.7 172.8)"/>
</g>
<g>
<rect x="293.3" y="205" width="58.6" height="40.2" fill="#0a0a0a" stroke="none" stroke-width="0.6"/>
<path d="M293.3,221.88 C294.47,209.82 306.19,205 322.6,205.4 C339.01,205 350.73,209.82 351.9,221.88" fill="none" stroke="#5a5a5a" stroke-width="0.7"/>
<path d="M322.6,207.01 C335.49,205.4 348.97,207.41 351.31,217.86 C352.49,224.3 351.9,229.92 349.56,234.75 C347.8,239.17 343.11,241.98 336.08,243.19 C328.46,244.4 316.74,244.4 309.12,243.19 C302.09,241.98 297.4,239.17 295.64,234.75 C293.3,229.92 292.71,224.3 293.89,217.86 C296.23,207.41 309.71,205.4 322.6,207.01 Z" fill="url(#brainGrad)" stroke="#707070" stroke-width="0.6"/>
<g filter="url(#blur1)">
<ellipse cx="312.64" cy="218.27" rx="3.22" ry="2.81" fill="#8a8a8a" opacity="0.7"/>
<ellipse cx="328.46" cy="219.47" rx="2.93" ry="2.41" fill="#7a7a7a" opacity="0.6"/>
<ellipse cx="322.6" cy="221.88" rx="2.34" ry="2.01" fill="#7a7a7a" opacity="0.6"/>
<ellipse cx="322.6" cy="233.14" rx="0.88" ry="5.63" fill="#777" opacity="0.5"/>
<ellipse cx="310.88" cy="229.92" rx="7.03" ry="6.03" fill="#383838" opacity="0.5"/>
<ellipse cx="334.32" cy="230.73" rx="7.03" ry="6.03" fill="#383838" opacity="0.5"/>
</g>
<path d="M327.29,213.84 Q333.15,211.83 340.18,214.65" fill="none" stroke="#151515" stroke-width="0.9"/>
<path d="M322.6,207.01 L322.6,210.63" stroke="#1a1a1a" stroke-width="0.8"/>
<ellipse cx="334.5" cy="226.2" rx="5" ry="6.7" fill="#f0cc1c" transform="rotate(0 334.5 226.2)"/>
<ellipse cx="334" cy="221" rx="2.5" ry="2.5" fill="#f0cc1c" transform="rotate(0 334 221)"/>
<ellipse cx="334.7" cy="226.9" rx="3.8" ry="4.6" fill="#d12a14" transform="rotate(0 334.7 226.9)"/>
</g>
<rect x="293.3" y="189.4" width="58.6" height="15.6" fill="#ffffff" stroke="none" stroke-width="0.6"/>
<rect x="275.4" y="149.2" width="76.5" height="96" fill="none" stroke="#222" stroke-width="0.8"/>
<line x1="293.3" y1="149.2" x2="293.3" y2="245.2" stroke="#222" stroke-width="0.6"/>
<text x="287.3" y="197.2" font-size="8.32" text-anchor="middle" fill="#1e1e1e" transform="rotate(-90 287.3 197.2)">Day 3</text>
<text x="324.6" y="200.45" font-size="8.32" text-anchor="middle" fill="#1e1e1e" transform="matrix(1,0,0,1.07,0,-13.83)">ICH + IgG</text>
<text x="280.5" y="254.8" font-size="8.32" text-anchor="start" fill="#1e1e1e" transform="matrix(1,0,0,1.07,0,-17.63)">ICH + Anti-CD8</text>
<text x="280.5" y="264.8" font-size="8.32" text-anchor="start" fill="#1e1e1e" transform="matrix(1,0,0,1.07,0,-18.33)">mAb</text>
<line x1="381.2" y1="168.3" x2="381.2" y2="225.4" stroke="#2e2e2e" stroke-width="1"/>
<line x1="378.6" y1="168.3" x2="381.2" y2="168.3" stroke="#2e2e2e" stroke-width="1"/>
<text x="376.8" y="171.25" font-size="8.32" text-anchor="end" fill="#1e1e1e" transform="matrix(1,0,0,1.12,0,-20.2)">15</text>
<line x1="378.6" y1="187.33" x2="381.2" y2="187.33" stroke="#2e2e2e" stroke-width="1"/>
<text x="376.8" y="190.29" font-size="8.32" text-anchor="end" fill="#1e1e1e" transform="matrix(1,0,0,1.12,0,-22.48)">10</text>
<line x1="378.6" y1="206.37" x2="381.2" y2="206.37" stroke="#2e2e2e" stroke-width="1"/>
<text x="376.8" y="209.32" font-size="8.32" text-anchor="end" fill="#1e1e1e" transform="matrix(1,0,0,1.12,0,-24.77)">5</text>
<line x1="378.6" y1="225.4" x2="381.2" y2="225.4" stroke="#2e2e2e" stroke-width="1"/>
<text x="376.8" y="228.35" font-size="8.32" text-anchor="end" fill="#1e1e1e" transform="matrix(1,0,0,1.12,0,-27.05)">0</text>
<rect x="387.4" y="188.3" width="10.9" height="37.1" fill="#64a6f6" stroke="#46597a" stroke-width="0.6"/>
<circle cx="390.17" cy="178.8" r="1.15" fill="#5a9ff3" stroke="#22529e" stroke-width="0.6"/>
<circle cx="393.37" cy="184.1" r="1.15" fill="#5a9ff3" stroke="#22529e" stroke-width="0.6"/>
<circle cx="395.83" cy="185.7" r="1.15" fill="#5a9ff3" stroke="#22529e" stroke-width="0.6"/>
<circle cx="390.11" cy="190.7" r="1.15" fill="#5a9ff3" stroke="#22529e" stroke-width="0.6"/>
<circle cx="392.99" cy="191.7" r="1.15" fill="#5a9ff3" stroke="#22529e" stroke-width="0.6"/>
<circle cx="395.81" cy="198.6" r="1.15" fill="#5a9ff3" stroke="#22529e" stroke-width="0.6"/>
<line x1="392.85" y1="186.1" x2="392.85" y2="190.5" stroke="#1d3f73" stroke-width="0.7"/>
<line x1="390.25" y1="186.1" x2="395.45" y2="186.1" stroke="#1d3f73" stroke-width="0.7"/>
<line x1="390.25" y1="190.5" x2="395.45" y2="190.5" stroke="#1d3f73" stroke-width="0.7"/>
<rect x="405.3" y="190.1" width="10.9" height="35.3" fill="#f17a82" stroke="#5e4246" stroke-width="0.6"/>
<rect x="406.33" y="183.55" width="2.3" height="2.3" fill="#ef707b" stroke="#6a2b32" stroke-width="0.6"/>
<rect x="410.06" y="184.55" width="2.3" height="2.3" fill="#ef707b" stroke="#6a2b32" stroke-width="0.6"/>
<rect x="412.68" y="187.55" width="2.3" height="2.3" fill="#ef707b" stroke="#6a2b32" stroke-width="0.6"/>
<rect x="407.27" y="193.45" width="2.3" height="2.3" fill="#ef707b" stroke="#6a2b32" stroke-width="0.6"/>
<rect x="409.94" y="194.45" width="2.3" height="2.3" fill="#ef707b" stroke="#6a2b32" stroke-width="0.6"/>
<line x1="410.75" y1="188.5" x2="410.75" y2="191.7" stroke="#3a1a1a" stroke-width="0.7"/>
<line x1="408.15" y1="188.5" x2="413.35" y2="188.5" stroke="#3a1a1a" stroke-width="0.7"/>
<line x1="408.15" y1="191.7" x2="413.35" y2="191.7" stroke="#3a1a1a" stroke-width="0.7"/>
<line x1="381.2" y1="225.4" x2="421.8" y2="225.4" stroke="#2e2e2e" stroke-width="1"/>
<line x1="392.85" y1="225.4" x2="392.85" y2="228" stroke="#2e2e2e" stroke-width="1"/>
<line x1="410.75" y1="225.4" x2="410.75" y2="228" stroke="#2e2e2e" stroke-width="1"/>
<text x="363.14" y="193.2" font-size="8.12" text-anchor="middle" fill="#1e1e1e" transform="rotate(-90 363.14 193.2)">Lesion volume (mm<tspan dy="-3" font-size="5">3</tspan><tspan dy="3">)</tspan></text>
<text x="394.6" y="234.3" font-size="8.12" text-anchor="end" fill="#1e1e1e" transform="rotate(-30 394.6 234.3)">ICH + IgG</text>
<text x="414.5" y="236.6" font-size="8.12" text-anchor="end" fill="#1e1e1e" transform="rotate(-30 414.5 236.6)">ICH + Anti-CD8 mAb</text>
<line x1="459.7" y1="168.3" x2="459.7" y2="225.4" stroke="#2e2e2e" stroke-width="1"/>
<line x1="457.1" y1="168.3" x2="459.7" y2="168.3" stroke="#2e2e2e" stroke-width="1"/>
<text x="455.7" y="171.25" font-size="8.32" text-anchor="end" fill="#1e1e1e" transform="matrix(1,0,0,1.12,0,-20.2)">10</text>
<line x1="457.1" y1="179.72" x2="459.7" y2="179.72" stroke="#2e2e2e" stroke-width="1"/>
<text x="455.7" y="182.67" font-size="8.32" text-anchor="end" fill="#1e1e1e" transform="matrix(1,0,0,1.12,0,-21.57)">8</text>
<line x1="457.1" y1="191.14" x2="459.7" y2="191.14" stroke="#2e2e2e" stroke-width="1"/>
<text x="455.7" y="194.09" font-size="8.32" text-anchor="end" fill="#1e1e1e" transform="matrix(1,0,0,1.12,0,-22.94)">6</text>
<line x1="457.1" y1="202.56" x2="459.7" y2="202.56" stroke="#2e2e2e" stroke-width="1"/>
<text x="455.7" y="205.51" font-size="8.32" text-anchor="end" fill="#1e1e1e" transform="matrix(1,0,0,1.12,0,-24.31)">4</text>
<line x1="457.1" y1="213.98" x2="459.7" y2="213.98" stroke="#2e2e2e" stroke-width="1"/>
<text x="455.7" y="216.93" font-size="8.32" text-anchor="end" fill="#1e1e1e" transform="matrix(1,0,0,1.12,0,-25.68)">2</text>
<line x1="457.1" y1="225.4" x2="459.7" y2="225.4" stroke="#2e2e2e" stroke-width="1"/>
<text x="455.7" y="228.35" font-size="8.32" text-anchor="end" fill="#1e1e1e" transform="matrix(1,0,0,1.12,0,-27.05)">0</text>
<rect x="465.9" y="182.7" width="11.3" height="42.7" fill="#64a6f6" stroke="#46597a" stroke-width="0.6"/>
<circle cx="468.57" cy="178.8" r="1.15" fill="#5a9ff3" stroke="#22529e" stroke-width="0.6"/>
<circle cx="471.43" cy="181.7" r="1.15" fill="#5a9ff3" stroke="#22529e" stroke-width="0.6"/>
<circle cx="473.93" cy="183.7" r="1.15" fill="#5a9ff3" stroke="#22529e" stroke-width="0.6"/>
<circle cx="468.85" cy="186.7" r="1.15" fill="#5a9ff3" stroke="#22529e" stroke-width="0.6"/>
<circle cx="471.03" cy="187.7" r="1.15" fill="#5a9ff3" stroke="#22529e" stroke-width="0.6"/>
<circle cx="473.89" cy="185" r="1.15" fill="#5a9ff3" stroke="#22529e" stroke-width="0.6"/>
<line x1="471.55" y1="181.1" x2="471.55" y2="184.3" stroke="#1d3f73" stroke-width="0.7"/>
<line x1="468.95" y1="181.1" x2="474.15" y2="181.1" stroke="#1d3f73" stroke-width="0.7"/>
<line x1="468.95" y1="184.3" x2="474.15" y2="184.3" stroke="#1d3f73" stroke-width="0.7"/>
<rect x="483.8" y="197.2" width="10.9" height="28.2" fill="#f17a82" stroke="#5e4246" stroke-width="0.6"/>
<rect x="485.01" y="188.55" width="2.3" height="2.3" fill="#ef707b" stroke="#6a2b32" stroke-width="0.6"/>
<rect x="487.71" y="194.85" width="2.3" height="2.3" fill="#ef707b" stroke="#6a2b32" stroke-width="0.6"/>
<rect x="490.68" y="196.45" width="2.3" height="2.3" fill="#ef707b" stroke="#6a2b32" stroke-width="0.6"/>
<rect x="484.83" y="199.45" width="2.3" height="2.3" fill="#ef707b" stroke="#6a2b32" stroke-width="0.6"/>
<rect x="487.53" y="202.85" width="2.3" height="2.3" fill="#ef707b" stroke="#6a2b32" stroke-width="0.6"/>
<line x1="489.25" y1="195.4" x2="489.25" y2="199" stroke="#3a1a1a" stroke-width="0.7"/>
<line x1="486.65" y1="195.4" x2="491.85" y2="195.4" stroke="#3a1a1a" stroke-width="0.7"/>
<line x1="486.65" y1="199" x2="491.85" y2="199" stroke="#3a1a1a" stroke-width="0.7"/>
<line x1="459.7" y1="225.4" x2="500" y2="225.4" stroke="#2e2e2e" stroke-width="1"/>
<line x1="471.55" y1="225.4" x2="471.55" y2="228" stroke="#2e2e2e" stroke-width="1"/>
<line x1="489.25" y1="225.4" x2="489.25" y2="228" stroke="#2e2e2e" stroke-width="1"/>
<text x="433.14" y="196" font-size="8.12" text-anchor="middle" fill="#1e1e1e" transform="rotate(-90 433.14 196)">Perihematomal edema</text>
<text x="442.64" y="197" font-size="8.12" text-anchor="middle" fill="#1e1e1e" transform="rotate(-90 442.64 197)">volume (mm<tspan dy="-3" font-size="5">3</tspan><tspan dy="3">)</tspan></text>
<text x="474" y="234.6" font-size="8.12" text-anchor="end" fill="#1e1e1e" transform="rotate(-30 474 234.6)">ICH + IgG</text>
<text x="494.4" y="236.6" font-size="8.12" text-anchor="end" fill="#1e1e1e" transform="rotate(-30 494.4 236.6)">ICH + Anti-CD8 mAb</text>
<line x1="470.6" y1="174.2" x2="492.4" y2="174.2" stroke="#1a1a1a" stroke-width="0.9"/>
<text x="482" y="175" font-size="9" text-anchor="middle" fill="#1e1e1e" transform="matrix(1,0,0,1.07,0,-12.03)" letter-spacing="0.6">**</text>
<text x="1.4" y="301" font-size="9.6" text-anchor="start" font-weight="bold" fill="#1e1e1e" transform="matrix(1,0,0,1.07,0,-20.83)">D</text>
<line x1="48.6" y1="307.4" x2="48.6" y2="398.4" stroke="#2e2e2e" stroke-width="1"/>
<line x1="46" y1="307.4" x2="48.6" y2="307.4" stroke="#2e2e2e" stroke-width="1"/>
<text x="45.6" y="310.39" font-size="8.42" text-anchor="end" fill="#1e1e1e" transform="matrix(1,0,0,1.12,0,-36.89)">100</text>
<line x1="46" y1="325.6" x2="48.6" y2="325.6" stroke="#2e2e2e" stroke-width="1"/>
<text x="45.6" y="328.59" font-size="8.42" text-anchor="end" fill="#1e1e1e" transform="matrix(1,0,0,1.12,0,-39.08)">80</text>
<line x1="46" y1="343.8" x2="48.6" y2="343.8" stroke="#2e2e2e" stroke-width="1"/>
<text x="45.6" y="346.79" font-size="8.42" text-anchor="end" fill="#1e1e1e" transform="matrix(1,0,0,1.12,0,-41.26)">60</text>
<line x1="46" y1="362" x2="48.6" y2="362" stroke="#2e2e2e" stroke-width="1"/>
<text x="45.6" y="364.99" font-size="8.42" text-anchor="end" fill="#1e1e1e" transform="matrix(1,0,0,1.12,0,-43.44)">40</text>
<line x1="46" y1="380.2" x2="48.6" y2="380.2" stroke="#2e2e2e" stroke-width="1"/>
<text x="45.6" y="383.19" font-size="8.42" text-anchor="end" fill="#1e1e1e" transform="matrix(1,0,0,1.12,0,-45.63)">20</text>
<line x1="46" y1="398.4" x2="48.6" y2="398.4" stroke="#2e2e2e" stroke-width="1"/>
<text x="45.6" y="401.39" font-size="8.42" text-anchor="end" fill="#1e1e1e" transform="matrix(1,0,0,1.12,0,-47.81)">0</text>
<text x="29.14" y="351" font-size="8.12" text-anchor="middle" fill="#1e1e1e" transform="rotate(-90 29.14 351)">Cell count (x10<tspan dy="-3.2" font-size="5.2">3</tspan><tspan dy="3.2">)</tspan></text>
<rect x="53.3" y="382.9" width="7.9" height="15.5" fill="#64a6f6" stroke="#46597a" stroke-width="0.6"/>
<circle cx="54.91" cy="380" r="1.12" fill="#5a9ff3" stroke="#22529e" stroke-width="0.6"/>
<circle cx="56.91" cy="380.9" r="1.12" fill="#5a9ff3" stroke="#22529e" stroke-width="0.6"/>
<circle cx="59.17" cy="382.6" r="1.12" fill="#5a9ff3" stroke="#22529e" stroke-width="0.6"/>
<circle cx="54.81" cy="384.3" r="1.12" fill="#5a9ff3" stroke="#22529e" stroke-width="0.6"/>
<circle cx="57.57" cy="387.7" r="1.12" fill="#5a9ff3" stroke="#22529e" stroke-width="0.6"/>
<circle cx="59.39" cy="385.1" r="1.12" fill="#5a9ff3" stroke="#22529e" stroke-width="0.6"/>
<line x1="57.25" y1="380.9" x2="57.25" y2="384.9" stroke="#1d3f73" stroke-width="0.7"/>
<line x1="54.7" y1="380.9" x2="59.8" y2="380.9" stroke="#1d3f73" stroke-width="0.7"/>
<line x1="54.7" y1="384.9" x2="59.8" y2="384.9" stroke="#1d3f73" stroke-width="0.7"/>
<rect x="63.5" y="392.2" width="8.1" height="6.2" fill="#f17a82" stroke="#5e4246" stroke-width="0.6"/>
<rect x="64.04" y="389.08" width="2.24" height="2.24" fill="#ef707b" stroke="#6a2b32" stroke-width="0.6"/>
<rect x="66.21" y="390.48" width="2.24" height="2.24" fill="#ef707b" stroke="#6a2b32" stroke-width="0.6"/>
<rect x="68.39" y="391.68" width="2.24" height="2.24" fill="#ef707b" stroke="#6a2b32" stroke-width="0.6"/>
<rect x="64.22" y="393.38" width="2.24" height="2.24" fill="#ef707b" stroke="#6a2b32" stroke-width="0.6"/>
<rect x="66.1" y="392.18" width="2.24" height="2.24" fill="#ef707b" stroke="#6a2b32" stroke-width="0.6"/>
<line x1="67.55" y1="391" x2="67.55" y2="393.4" stroke="#3a1a1a" stroke-width="0.7"/>
<line x1="64.95" y1="391" x2="70.15" y2="391" stroke="#3a1a1a" stroke-width="0.7"/>
<line x1="64.95" y1="393.4" x2="70.15" y2="393.4" stroke="#3a1a1a" stroke-width="0.7"/>
<rect x="82.4" y="378.3" width="8.3" height="20.1" fill="#64a6f6" stroke="#46597a" stroke-width="0.6"/>
<circle cx="84.72" cy="373.2" r="1.12" fill="#5a9ff3" stroke="#22529e" stroke-width="0.6"/>
<circle cx="86.99" cy="375.8" r="1.12" fill="#5a9ff3" stroke="#22529e" stroke-width="0.6"/>
<circle cx="88.66" cy="378.3" r="1.12" fill="#5a9ff3" stroke="#22529e" stroke-width="0.6"/>
<circle cx="84.4" cy="381.7" r="1.12" fill="#5a9ff3" stroke="#22529e" stroke-width="0.6"/>
<circle cx="86.18" cy="385.1" r="1.12" fill="#5a9ff3" stroke="#22529e" stroke-width="0.6"/>
<line x1="86.55" y1="375.3" x2="86.55" y2="381.3" stroke="#1d3f73" stroke-width="0.7"/>
<line x1="83.95" y1="375.3" x2="89.15" y2="375.3" stroke="#1d3f73" stroke-width="0.7"/>
<line x1="83.95" y1="381.3" x2="89.15" y2="381.3" stroke="#1d3f73" stroke-width="0.7"/>
<rect x="93" y="382.6" width="7.9" height="15.8" fill="#f17a82" stroke="#5e4246" stroke-width="0.6"/>
<rect x="93.45" y="381.08" width="2.24" height="2.24" fill="#ef707b" stroke="#6a2b32" stroke-width="0.6"/>
<rect x="95.7" y="382.28" width="2.24" height="2.24" fill="#ef707b" stroke="#6a2b32" stroke-width="0.6"/>
<rect x="97.67" y="383.98" width="2.24" height="2.24" fill="#ef707b" stroke="#6a2b32" stroke-width="0.6"/>
<rect x="94.07" y="385.68" width="2.24" height="2.24" fill="#ef707b" stroke="#6a2b32" stroke-width="0.6"/>
<rect x="95.54" y="386.58" width="2.24" height="2.24" fill="#ef707b" stroke="#6a2b32" stroke-width="0.6"/>
<line x1="96.95" y1="381.4" x2="96.95" y2="383.8" stroke="#3a1a1a" stroke-width="0.7"/>
<line x1="94.4" y1="381.4" x2="99.5" y2="381.4" stroke="#3a1a1a" stroke-width="0.7"/>
<line x1="94.4" y1="383.8" x2="99.5" y2="383.8" stroke="#3a1a1a" stroke-width="0.7"/>
<rect x="111.7" y="380.9" width="7.9" height="17.5" fill="#64a6f6" stroke="#46597a" stroke-width="0.6"/>
<circle cx="113.2" cy="379.2" r="1.12" fill="#5a9ff3" stroke="#22529e" stroke-width="0.6"/>
<circle cx="116.03" cy="380" r="1.12" fill="#5a9ff3" stroke="#22529e" stroke-width="0.6"/>
<circle cx="117.71" cy="381.7" r="1.12" fill="#5a9ff3" stroke="#22529e" stroke-width="0.6"/>
<circle cx="113.31" cy="383.4" r="1.12" fill="#5a9ff3" stroke="#22529e" stroke-width="0.6"/>
<line x1="115.65" y1="379.9" x2="115.65" y2="381.9" stroke="#1d3f73" stroke-width="0.7"/>
<line x1="113.1" y1="379.9" x2="118.2" y2="379.9" stroke="#1d3f73" stroke-width="0.7"/>
<line x1="113.1" y1="381.9" x2="118.2" y2="381.9" stroke="#1d3f73" stroke-width="0.7"/>
<rect x="121.9" y="377.5" width="8.4" height="20.9" fill="#f17a82" stroke="#5e4246" stroke-width="0.6"/>
<rect x="122.86" y="374.68" width="2.24" height="2.24" fill="#ef707b" stroke="#6a2b32" stroke-width="0.6"/>
<rect x="124.55" y="376.38" width="2.24" height="2.24" fill="#ef707b" stroke="#6a2b32" stroke-width="0.6"/>
<rect x="127.17" y="378.88" width="2.24" height="2.24" fill="#ef707b" stroke="#6a2b32" stroke-width="0.6"/>
<rect x="123.25" y="381.48" width="2.24" height="2.24" fill="#ef707b" stroke="#6a2b32" stroke-width="0.6"/>
<line x1="126.1" y1="376.3" x2="126.1" y2="378.7" stroke="#3a1a1a" stroke-width="0.7"/>
<line x1="123.5" y1="376.3" x2="128.7" y2="376.3" stroke="#3a1a1a" stroke-width="0.7"/>
<line x1="123.5" y1="378.7" x2="128.7" y2="378.7" stroke="#3a1a1a" stroke-width="0.7"/>
<rect x="140.8" y="341.8" width="8.5" height="56.6" fill="#64a6f6" stroke="#46597a" stroke-width="0.6"/>
<circle cx="143.2" cy="324.8" r="1.12" fill="#5a9ff3" stroke="#22529e" stroke-width="0.6"/>
<circle cx="145.23" cy="338.4" r="1.12" fill="#5a9ff3" stroke="#22529e" stroke-width="0.6"/>
<circle cx="147.02" cy="341.8" r="1.12" fill="#5a9ff3" stroke="#22529e" stroke-width="0.6"/>
<circle cx="142.74" cy="352" r="1.12" fill="#5a9ff3" stroke="#22529e" stroke-width="0.6"/>
<circle cx="144.75" cy="352.8" r="1.12" fill="#5a9ff3" stroke="#22529e" stroke-width="0.6"/>
<circle cx="147.48" cy="341" r="1.12" fill="#5a9ff3" stroke="#22529e" stroke-width="0.6"/>
<line x1="145.05" y1="338.3" x2="145.05" y2="345.3" stroke="#1d3f73" stroke-width="0.7"/>
<line x1="142.45" y1="338.3" x2="147.65" y2="338.3" stroke="#1d3f73" stroke-width="0.7"/>
<line x1="142.45" y1="345.3" x2="147.65" y2="345.3" stroke="#1d3f73" stroke-width="0.7"/>
<rect x="151.6" y="355.4" width="7.9" height="43" fill="#f17a82" stroke="#5e4246" stroke-width="0.6"/>
<rect x="152.42" y="344.88" width="2.24" height="2.24" fill="#ef707b" stroke="#6a2b32" stroke-width="0.6"/>
<rect x="154.67" y="343.18" width="2.24" height="2.24" fill="#ef707b" stroke="#6a2b32" stroke-width="0.6"/>
<rect x="156.33" y="352.58" width="2.24" height="2.24" fill="#ef707b" stroke="#6a2b32" stroke-width="0.6"/>
<rect x="152.15" y="361.08" width="2.24" height="2.24" fill="#ef707b" stroke="#6a2b32" stroke-width="0.6"/>
<rect x="154.69" y="369.58" width="2.24" height="2.24" fill="#ef707b" stroke="#6a2b32" stroke-width="0.6"/>
<rect x="156.88" y="353.38" width="2.24" height="2.24" fill="#ef707b" stroke="#6a2b32" stroke-width="0.6"/>
<line x1="155.55" y1="351.6" x2="155.55" y2="359.2" stroke="#3a1a1a" stroke-width="0.7"/>
<line x1="153" y1="351.6" x2="158.1" y2="351.6" stroke="#3a1a1a" stroke-width="0.7"/>
<line x1="153" y1="359.2" x2="158.1" y2="359.2" stroke="#3a1a1a" stroke-width="0.7"/>
<rect x="170.3" y="349.7" width="8.1" height="48.7" fill="#64a6f6" stroke="#46597a" stroke-width="0.6"/>
<circle cx="172.57" cy="341.2" r="1.12" fill="#5a9ff3" stroke="#22529e" stroke-width="0.6"/>
<circle cx="174.62" cy="347.7" r="1.12" fill="#5a9ff3" stroke="#22529e" stroke-width="0.6"/>
<circle cx="176.71" cy="349.4" r="1.12" fill="#5a9ff3" stroke="#22529e" stroke-width="0.6"/>
<circle cx="172.47" cy="352" r="1.12" fill="#5a9ff3" stroke="#22529e" stroke-width="0.6"/>
<circle cx="174.11" cy="360.5" r="1.12" fill="#5a9ff3" stroke="#22529e" stroke-width="0.6"/>
<line x1="174.35" y1="347.5" x2="174.35" y2="351.9" stroke="#1d3f73" stroke-width="0.7"/>
<line x1="171.75" y1="347.5" x2="176.95" y2="347.5" stroke="#1d3f73" stroke-width="0.7"/>
<line x1="171.75" y1="351.9" x2="176.95" y2="351.9" stroke="#1d3f73" stroke-width="0.7"/>
<rect x="180.7" y="364.7" width="7.7" height="33.7" fill="#f17a82" stroke="#5e4246" stroke-width="0.6"/>
<rect x="181.45" y="351.98" width="2.24" height="2.24" fill="#ef707b" stroke="#6a2b32" stroke-width="0.6"/>
<rect x="183.31" y="359.38" width="2.24" height="2.24" fill="#ef707b" stroke="#6a2b32" stroke-width="0.6"/>
<rect x="185.03" y="360.18" width="2.24" height="2.24" fill="#ef707b" stroke="#6a2b32" stroke-width="0.6"/>
<rect x="181.05" y="366.18" width="2.24" height="2.24" fill="#ef707b" stroke="#6a2b32" stroke-width="0.6"/>
<rect x="183.25" y="367.88" width="2.24" height="2.24" fill="#ef707b" stroke="#6a2b32" stroke-width="0.6"/>
<rect x="185.22" y="374.68" width="2.24" height="2.24" fill="#ef707b" stroke="#6a2b32" stroke-width="0.6"/>
<line x1="184.55" y1="361.5" x2="184.55" y2="367.9" stroke="#3a1a1a" stroke-width="0.7"/>
<line x1="182.06" y1="361.5" x2="187.04" y2="361.5" stroke="#3a1a1a" stroke-width="0.7"/>
<line x1="182.06" y1="367.9" x2="187.04" y2="367.9" stroke="#3a1a1a" stroke-width="0.7"/>
<line x1="48.6" y1="398.4" x2="193.2" y2="398.4" stroke="#2e2e2e" stroke-width="1"/>
<line x1="62.4" y1="398.4" x2="62.4" y2="401" stroke="#2e2e2e" stroke-width="1"/>
<line x1="91.9" y1="398.4" x2="91.9" y2="401" stroke="#2e2e2e" stroke-width="1"/>
<line x1="121" y1="398.4" x2="121" y2="401" stroke="#2e2e2e" stroke-width="1"/>
<line x1="150.2" y1="398.4" x2="150.2" y2="401" stroke="#2e2e2e" stroke-width="1"/>
<line x1="179.4" y1="398.4" x2="179.4" y2="401" stroke="#2e2e2e" stroke-width="1"/>
<text x="63.4" y="410.2" font-size="8.12" text-anchor="end" fill="#1e1e1e" transform="rotate(-23 63.4 410.2)">CD8<tspan dy="-3.2" font-size="5.2">+</tspan><tspan dy="3.2"> T cell</tspan></text>
<text x="92.3" y="410.2" font-size="8.12" text-anchor="end" fill="#1e1e1e" transform="rotate(-23 92.3 410.2)">CD4<tspan dy="-3.2" font-size="5.2">+</tspan><tspan dy="3.2"> T cell</tspan></text>
<text x="121.2" y="410.2" font-size="8.12" text-anchor="end" fill="#1e1e1e" transform="rotate(-23 121.2 410.2)">NK cell</text>
<text x="151.4" y="409.6" font-size="8.12" text-anchor="end" fill="#1e1e1e" transform="rotate(-23 151.4 409.6)">Neutrophil</text>
<text x="180.3" y="409.6" font-size="8.12" text-anchor="end" fill="#1e1e1e" transform="rotate(-24 180.3 409.6)" xml:space="preserve">Ly6C<tspan dy="-3.2" font-size="5.2">high</tspan><tspan dy="3.2">  monocyte</tspan></text>
<line x1="55.3" y1="375.2" x2="69.7" y2="375.2" stroke="#1a1a1a" stroke-width="0.9"/>
<text x="63" y="376" font-size="9" text-anchor="middle" fill="#1e1e1e" transform="matrix(1,0,0,1.07,0,-26.1)" letter-spacing="0.6">**</text>
<line x1="83.6" y1="365.2" x2="98.3" y2="365.2" stroke="#1a1a1a" stroke-width="0.9"/>
<text x="91.45" y="366" font-size="9" text-anchor="middle" fill="#1e1e1e" transform="matrix(1,0,0,1.07,0,-25.4)" letter-spacing="0.6">*</text>
<line x1="144.5" y1="319.3" x2="158.7" y2="319.3" stroke="#1a1a1a" stroke-width="0.9"/>
<text x="152.1" y="320.1" font-size="9" text-anchor="middle" fill="#1e1e1e" transform="matrix(1,0,0,1.07,0,-22.19)" letter-spacing="0.6">**</text>
<line x1="171.7" y1="336.3" x2="185.9" y2="336.3" stroke="#1a1a1a" stroke-width="0.9"/>
<text x="179.3" y="337.1" font-size="9" text-anchor="middle" fill="#1e1e1e" transform="matrix(1,0,0,1.07,0,-23.38)" letter-spacing="0.6">**</text>
<line x1="264.4" y1="309.1" x2="264.4" y2="400.4" stroke="#2e2e2e" stroke-width="1"/>
<line x1="261.8" y1="309.1" x2="264.4" y2="309.1" stroke="#2e2e2e" stroke-width="1"/>
<text x="261" y="311.98" font-size="8.12" text-anchor="end" fill="#1e1e1e" transform="matrix(1,0,0,1.12,0,-37.1)">30</text>
<line x1="261.8" y1="339.53" x2="264.4" y2="339.53" stroke="#2e2e2e" stroke-width="1"/>
<text x="261" y="342.41" font-size="8.12" text-anchor="end" fill="#1e1e1e" transform="matrix(1,0,0,1.12,0,-40.75)">20</text>
<line x1="261.8" y1="369.97" x2="264.4" y2="369.97" stroke="#2e2e2e" stroke-width="1"/>
<text x="261" y="372.85" font-size="8.12" text-anchor="end" fill="#1e1e1e" transform="matrix(1,0,0,1.12,0,-44.4)">10</text>
<line x1="261.8" y1="400.4" x2="264.4" y2="400.4" stroke="#2e2e2e" stroke-width="1"/>
<text x="261" y="403.28" font-size="8.12" text-anchor="end" fill="#1e1e1e" transform="matrix(1,0,0,1.12,0,-48.05)">0</text>
<text x="237.14" y="349.4" font-size="8.12" text-anchor="middle" fill="#1e1e1e" transform="rotate(-90 237.14 349.4)" xml:space="preserve">Percentage of  microglia</text>
<text x="247.64" y="348.6" font-size="8.12" text-anchor="middle" fill="#1e1e1e" transform="rotate(-90 247.64 348.6)">(%)</text>
<rect x="272.4" y="351.1" width="13.5" height="49.3" fill="#64a6f6" stroke="#46597a" stroke-width="0.6"/>
<circle cx="276.04" cy="339.5" r="1.1" fill="#5a9ff3" stroke="#22529e" stroke-width="0.6"/>
<circle cx="279.79" cy="341.2" r="1.1" fill="#5a9ff3" stroke="#22529e" stroke-width="0.6"/>
<circle cx="282.46" cy="347.7" r="1.1" fill="#5a9ff3" stroke="#22529e" stroke-width="0.6"/>
<circle cx="276.38" cy="351.1" r="1.1" fill="#5a9ff3" stroke="#22529e" stroke-width="0.6"/>
<circle cx="279.84" cy="352.8" r="1.1" fill="#5a9ff3" stroke="#22529e" stroke-width="0.6"/>
<circle cx="283.18" cy="357" r="1.1" fill="#5a9ff3" stroke="#22529e" stroke-width="0.6"/>
<circle cx="275.58" cy="368.4" r="1.1" fill="#5a9ff3" stroke="#22529e" stroke-width="0.6"/>
<line x1="279.15" y1="346.9" x2="279.15" y2="355.3" stroke="#1d3f73" stroke-width="0.7"/>
<line x1="276.55" y1="346.9" x2="281.75" y2="346.9" stroke="#1d3f73" stroke-width="0.7"/>
<line x1="276.55" y1="355.3" x2="281.75" y2="355.3" stroke="#1d3f73" stroke-width="0.7"/>
<rect x="289.6" y="373.2" width="13.6" height="27.2" fill="#f17a82" stroke="#5e4246" stroke-width="0.6"/>
<rect x="291.5" y="366.2" width="2.2" height="2.2" fill="#ef707b" stroke="#6a2b32" stroke-width="0.6"/>
<rect x="294.91" y="367.9" width="2.2" height="2.2" fill="#ef707b" stroke="#6a2b32" stroke-width="0.6"/>
<rect x="298.28" y="370.1" width="2.2" height="2.2" fill="#ef707b" stroke="#6a2b32" stroke-width="0.6"/>
<rect x="291.47" y="372.1" width="2.2" height="2.2" fill="#ef707b" stroke="#6a2b32" stroke-width="0.6"/>
<rect x="295.48" y="373.5" width="2.2" height="2.2" fill="#ef707b" stroke="#6a2b32" stroke-width="0.6"/>
<rect x="299.28" y="381.8" width="2.2" height="2.2" fill="#ef707b" stroke="#6a2b32" stroke-width="0.6"/>
<line x1="296.4" y1="370.2" x2="296.4" y2="376.2" stroke="#3a1a1a" stroke-width="0.7"/>
<line x1="293.8" y1="370.2" x2="299" y2="370.2" stroke="#3a1a1a" stroke-width="0.7"/>
<line x1="293.8" y1="376.2" x2="299" y2="376.2" stroke="#3a1a1a" stroke-width="0.7"/>
<rect x="321.5" y="330" width="13.7" height="70.4" fill="#64a6f6" stroke="#46597a" stroke-width="0.6"/>
<circle cx="325.4" cy="314.7" r="1.1" fill="#5a9ff3" stroke="#22529e" stroke-width="0.6"/>
<circle cx="328.32" cy="322.4" r="1.1" fill="#5a9ff3" stroke="#22529e" stroke-width="0.6"/>
<circle cx="332" cy="322.8" r="1.1" fill="#5a9ff3" stroke="#22529e" stroke-width="0.6"/>
<circle cx="325.35" cy="332.2" r="1.1" fill="#5a9ff3" stroke="#22529e" stroke-width="0.6"/>
<circle cx="327.76" cy="339.9" r="1.1" fill="#5a9ff3" stroke="#22529e" stroke-width="0.6"/>
<circle cx="332.01" cy="347.6" r="1.1" fill="#5a9ff3" stroke="#22529e" stroke-width="0.6"/>
<line x1="328.35" y1="325.3" x2="328.35" y2="334.7" stroke="#1d3f73" stroke-width="0.7"/>
<line x1="325.75" y1="325.3" x2="330.95" y2="325.3" stroke="#1d3f73" stroke-width="0.7"/>
<line x1="325.75" y1="334.7" x2="330.95" y2="334.7" stroke="#1d3f73" stroke-width="0.7"/>
<rect x="338.6" y="352.4" width="13.7" height="48" fill="#f17a82" stroke="#5e4246" stroke-width="0.6"/>
<rect x="341.5" y="343.2" width="2.2" height="2.2" fill="#ef707b" stroke="#6a2b32" stroke-width="0.6"/>
<rect x="344.75" y="346.5" width="2.2" height="2.2" fill="#ef707b" stroke="#6a2b32" stroke-width="0.6"/>
<rect x="348.14" y="348.6" width="2.2" height="2.2" fill="#ef707b" stroke="#6a2b32" stroke-width="0.6"/>
<rect x="340.89" y="351.3" width="2.2" height="2.2" fill="#ef707b" stroke="#6a2b32" stroke-width="0.6"/>
<rect x="343.89" y="353.5" width="2.2" height="2.2" fill="#ef707b" stroke="#6a2b32" stroke-width="0.6"/>
<rect x="348.2" y="364.4" width="2.2" height="2.2" fill="#ef707b" stroke="#6a2b32" stroke-width="0.6"/>
<line x1="345.45" y1="349.6" x2="345.45" y2="355.2" stroke="#3a1a1a" stroke-width="0.7"/>
<line x1="342.85" y1="349.6" x2="348.05" y2="349.6" stroke="#3a1a1a" stroke-width="0.7"/>
<line x1="342.85" y1="355.2" x2="348.05" y2="355.2" stroke="#3a1a1a" stroke-width="0.7"/>
<line x1="264.4" y1="400.4" x2="361.7" y2="400.4" stroke="#2e2e2e" stroke-width="1"/>
<line x1="287.8" y1="400.4" x2="287.8" y2="403" stroke="#2e2e2e" stroke-width="1"/>
<line x1="337" y1="400.4" x2="337" y2="403" stroke="#2e2e2e" stroke-width="1"/>
<text x="287.9" y="410.28" font-size="8.12" text-anchor="middle" fill="#1e1e1e" transform="matrix(1,0,0,1.07,0,-28.52)">IL-1β</text>
<text x="336.1" y="410.68" font-size="8.12" text-anchor="middle" fill="#1e1e1e" transform="matrix(1,0,0,1.07,0,-28.55)">TNF-α</text>
<line x1="279.7" y1="332.1" x2="294.4" y2="332.1" stroke="#1a1a1a" stroke-width="0.9"/>
<text x="287.55" y="332.9" font-size="9" text-anchor="middle" fill="#1e1e1e" transform="matrix(1,0,0,1.07,0,-23.08)" letter-spacing="0.6">**</text>
<line x1="329.6" y1="308.8" x2="343.8" y2="308.8" stroke="#1a1a1a" stroke-width="0.9"/>
<text x="337.2" y="309.6" font-size="9" text-anchor="middle" fill="#1e1e1e" transform="matrix(1,0,0,1.07,0,-21.45)" letter-spacing="0.6">*</text>
<circle cx="371.8" cy="306.4" r="1.5" fill="#5a9ff3" stroke="#22529e" stroke-width="0.6"/>
<rect x="370.3" y="317.1" width="3" height="3" fill="#ef707b" stroke="#6a2b32" stroke-width="0.6"/>
<text x="379.3" y="307.58" font-size="8.12" text-anchor="start" fill="#1e1e1e" transform="matrix(1,0,0,1.07,0,-21.33)">ICH + IgG</text>
<text x="379.3" y="319.78" font-size="8.12" text-anchor="start" fill="#1e1e1e" transform="matrix(1,0,0,1.07,0,-22.19)">ICH + Anti-CD8 mAb</text>
<text x="1.2" y="458" font-size="9.6" text-anchor="start" font-weight="bold" fill="#1e1e1e" transform="matrix(1,0,0,1.07,0,-31.82)">E</text>
<line x1="47.9" y1="471.8" x2="47.9" y2="542.6" stroke="#2e2e2e" stroke-width="1"/>
<line x1="45.3" y1="471.8" x2="47.9" y2="471.8" stroke="#2e2e2e" stroke-width="1"/>
<text x="44.4" y="474.97" font-size="8.93" text-anchor="end" fill="#1e1e1e" transform="matrix(1,0,0,1.12,0,-56.62)">15</text>
<line x1="45.3" y1="495.4" x2="47.9" y2="495.4" stroke="#2e2e2e" stroke-width="1"/>
<text x="44.4" y="498.57" font-size="8.93" text-anchor="end" fill="#1e1e1e" transform="matrix(1,0,0,1.12,0,-59.45)">10</text>
<line x1="45.3" y1="519" x2="47.9" y2="519" stroke="#2e2e2e" stroke-width="1"/>
<text x="44.4" y="522.17" font-size="8.93" text-anchor="end" fill="#1e1e1e" transform="matrix(1,0,0,1.12,0,-62.29)">5</text>
<line x1="45.3" y1="542.6" x2="47.9" y2="542.6" stroke="#2e2e2e" stroke-width="1"/>
<text x="44.4" y="545.77" font-size="8.93" text-anchor="end" fill="#1e1e1e" transform="matrix(1,0,0,1.12,0,-65.12)">0</text>
<text x="26.34" y="508.7" font-size="8.12" text-anchor="middle" fill="#1e1e1e" transform="rotate(-90 26.34 508.7)">mNSS Score</text>
<line x1="47.9" y1="542.6" x2="155.3" y2="542.6" stroke="#2e2e2e" stroke-width="1"/>
<line x1="66.6" y1="542.6" x2="66.6" y2="545.2" stroke="#2e2e2e" stroke-width="1"/>
<line x1="103.2" y1="542.6" x2="103.2" y2="545.2" stroke="#2e2e2e" stroke-width="1"/>
<line x1="140.2" y1="542.6" x2="140.2" y2="545.2" stroke="#2e2e2e" stroke-width="1"/>
<text x="64.9" y="554.38" font-size="8.12" text-anchor="middle" fill="#1e1e1e" transform="matrix(1,0,0,1.07,0,-38.61)">Baseline</text>
<text x="103.5" y="554.38" font-size="8.12" text-anchor="middle" fill="#1e1e1e" transform="matrix(1,0,0,1.07,0,-38.61)">Day 1</text>
<text x="139.4" y="554.38" font-size="8.12" text-anchor="middle" fill="#1e1e1e" transform="matrix(1,0,0,1.07,0,-38.61)">Day 3</text>
<line x1="103.2" y1="479.5" x2="103.2" y2="494.5" stroke="#6aa6f2" stroke-width="0.8"/>
<line x1="101.6" y1="479.5" x2="104.8" y2="479.5" stroke="#6aa6f2" stroke-width="0.8"/>
<line x1="101.6" y1="494.5" x2="104.8" y2="494.5" stroke="#6aa6f2" stroke-width="0.8"/>
<line x1="140.2" y1="494.7" x2="140.2" y2="504.1" stroke="#6aa6f2" stroke-width="0.8"/>
<line x1="138.6" y1="494.7" x2="141.8" y2="494.7" stroke="#6aa6f2" stroke-width="0.8"/>
<line x1="138.6" y1="504.1" x2="141.8" y2="504.1" stroke="#6aa6f2" stroke-width="0.8"/>
<line x1="103.2" y1="485.6" x2="103.2" y2="498.2" stroke="#ee7a84" stroke-width="0.8"/>
<line x1="101.6" y1="485.6" x2="104.8" y2="485.6" stroke="#ee7a84" stroke-width="0.8"/>
<line x1="101.6" y1="498.2" x2="104.8" y2="498.2" stroke="#ee7a84" stroke-width="0.8"/>
<line x1="140.2" y1="506.6" x2="140.2" y2="516.4" stroke="#ee7a84" stroke-width="0.8"/>
<line x1="138.6" y1="506.6" x2="141.8" y2="506.6" stroke="#ee7a84" stroke-width="0.8"/>
<line x1="138.6" y1="516.4" x2="141.8" y2="516.4" stroke="#ee7a84" stroke-width="0.8"/>
<polyline points="66.6,542.6 103.2,491.9 140.2,511.5" fill="none" stroke="#ee7a84" stroke-width="0.9"/>
<polyline points="66.6,542.6 103.2,487.0 140.2,499.4" fill="none" stroke="#6aa6f2" stroke-width="0.9"/>
<rect x="65" y="541" width="3.2" height="3.2" fill="#ec6874"/>
<rect x="101.6" y="490.3" width="3.2" height="3.2" fill="#ec6874"/>
<rect x="138.6" y="509.9" width="3.2" height="3.2" fill="#ec6874"/>
<circle cx="66.6" cy="542.6" r="1.6" fill="#5b9ef0"/>
<circle cx="103.2" cy="487" r="1.6" fill="#5b9ef0"/>
<circle cx="140.2" cy="499.4" r="1.6" fill="#5b9ef0"/>
<text x="139.7" y="489.7" font-size="9.74" text-anchor="middle" fill="#1e1e1e" transform="matrix(1,0,0,1.07,0,-34.04)">**</text>
<line x1="201.9" y1="471.3" x2="201.9" y2="543.5" stroke="#2e2e2e" stroke-width="1"/>
<line x1="199.3" y1="471.3" x2="201.9" y2="471.3" stroke="#2e2e2e" stroke-width="1"/>
<text x="198.8" y="474.65" font-size="9.44" text-anchor="end" fill="#1e1e1e" transform="matrix(1,0,0,1.12,0,-56.56)">40</text>
<line x1="199.3" y1="489.35" x2="201.9" y2="489.35" stroke="#2e2e2e" stroke-width="1"/>
<text x="198.8" y="492.7" font-size="9.44" text-anchor="end" fill="#1e1e1e" transform="matrix(1,0,0,1.12,0,-58.73)">30</text>
<line x1="199.3" y1="507.4" x2="201.9" y2="507.4" stroke="#2e2e2e" stroke-width="1"/>
<text x="198.8" y="510.75" font-size="9.44" text-anchor="end" fill="#1e1e1e" transform="matrix(1,0,0,1.12,0,-60.89)">20</text>
<line x1="199.3" y1="525.45" x2="201.9" y2="525.45" stroke="#2e2e2e" stroke-width="1"/>
<text x="198.8" y="528.8" font-size="9.44" text-anchor="end" fill="#1e1e1e" transform="matrix(1,0,0,1.12,0,-63.06)">10</text>
<line x1="199.3" y1="543.5" x2="201.9" y2="543.5" stroke="#2e2e2e" stroke-width="1"/>
<text x="198.8" y="546.85" font-size="9.44" text-anchor="end" fill="#1e1e1e" transform="matrix(1,0,0,1.12,0,-65.23)">0</text>
<text x="181.04" y="502.5" font-size="8.12" text-anchor="middle" fill="#1e1e1e" transform="rotate(-90 181.04 502.5)">Foot-fault test (%)</text>
<line x1="201.9" y1="543.5" x2="293.2" y2="543.5" stroke="#2e2e2e" stroke-width="1"/>
<line x1="224.4" y1="543.5" x2="224.4" y2="546.1" stroke="#2e2e2e" stroke-width="1"/>
<line x1="270.4" y1="543.5" x2="270.4" y2="546.1" stroke="#2e2e2e" stroke-width="1"/>
<text x="221.2" y="556.88" font-size="8.12" text-anchor="middle" fill="#1e1e1e" transform="matrix(1,0,0,1.07,0,-38.78)">Day 1</text>
<text x="264.6" y="556.88" font-size="8.12" text-anchor="middle" fill="#1e1e1e" transform="matrix(1,0,0,1.07,0,-38.78)">Day 3</text>
<line x1="224.4" y1="477.4" x2="224.4" y2="496.8" stroke="#6aa6f2" stroke-width="0.8"/>
<line x1="222.8" y1="477.4" x2="226" y2="477.4" stroke="#6aa6f2" stroke-width="0.8"/>
<line x1="222.8" y1="496.8" x2="226" y2="496.8" stroke="#6aa6f2" stroke-width="0.8"/>
<line x1="270.4" y1="493.5" x2="270.4" y2="508.5" stroke="#6aa6f2" stroke-width="0.8"/>
<line x1="268.8" y1="493.5" x2="272" y2="493.5" stroke="#6aa6f2" stroke-width="0.8"/>
<line x1="268.8" y1="508.5" x2="272" y2="508.5" stroke="#6aa6f2" stroke-width="0.8"/>
<line x1="224.4" y1="484.3" x2="224.4" y2="504.5" stroke="#ee7a84" stroke-width="0.8"/>
<line x1="222.8" y1="484.3" x2="226" y2="484.3" stroke="#ee7a84" stroke-width="0.8"/>
<line x1="222.8" y1="504.5" x2="226" y2="504.5" stroke="#ee7a84" stroke-width="0.8"/>
<line x1="270.4" y1="506.8" x2="270.4" y2="524.6" stroke="#ee7a84" stroke-width="0.8"/>
<line x1="268.8" y1="506.8" x2="272" y2="506.8" stroke="#ee7a84" stroke-width="0.8"/>
<line x1="268.8" y1="524.6" x2="272" y2="524.6" stroke="#ee7a84" stroke-width="0.8"/>
<polyline points="224.4,494.4 270.4,515.7" fill="none" stroke="#ee7a84" stroke-width="0.9"/>
<polyline points="224.4,487.1 270.4,501.0" fill="none" stroke="#6aa6f2" stroke-width="0.9"/>
<rect x="222.8" y="492.8" width="3.2" height="3.2" fill="#ec6874"/>
<rect x="268.8" y="514.1" width="3.2" height="3.2" fill="#ec6874"/>
<circle cx="224.4" cy="487.1" r="1.6" fill="#5b9ef0"/>
<circle cx="270.4" cy="501" r="1.6" fill="#5b9ef0"/>
<text x="270" y="492.1" font-size="9.74" text-anchor="middle" fill="#1e1e1e" transform="matrix(1,0,0,1.07,0,-34.21)">**</text>
<text x="304.8" y="459.6" font-size="9.6" text-anchor="start" font-weight="bold" fill="#1e1e1e" transform="matrix(1,0,0,1.07,0,-31.94)">F</text>
<line x1="357.5" y1="471.3" x2="357.5" y2="542.5" stroke="#2e2e2e" stroke-width="1"/>
<line x1="354.9" y1="471.3" x2="357.5" y2="471.3" stroke="#2e2e2e" stroke-width="1"/>
<text x="352.1" y="474.54" font-size="9.13" text-anchor="end" fill="#1e1e1e" transform="matrix(1,0,0,1.12,0,-56.56)">300</text>
<line x1="354.9" y1="495.03" x2="357.5" y2="495.03" stroke="#2e2e2e" stroke-width="1"/>
<text x="352.1" y="498.27" font-size="9.13" text-anchor="end" fill="#1e1e1e" transform="matrix(1,0,0,1.12,0,-59.41)">200</text>
<line x1="354.9" y1="518.77" x2="357.5" y2="518.77" stroke="#2e2e2e" stroke-width="1"/>
<text x="352.1" y="522.01" font-size="9.13" text-anchor="end" fill="#1e1e1e" transform="matrix(1,0,0,1.12,0,-62.26)">100</text>
<line x1="354.9" y1="542.5" x2="357.5" y2="542.5" stroke="#2e2e2e" stroke-width="1"/>
<text x="352.1" y="545.74" font-size="9.13" text-anchor="end" fill="#1e1e1e" transform="matrix(1,0,0,1.12,0,-65.11)">0</text>
<text x="327.34" y="502.5" font-size="8.12" text-anchor="middle" fill="#1e1e1e" transform="rotate(-90 327.34 502.5)">Rotarod test (s)</text>
<rect x="362.6" y="521.4" width="11.1" height="21.1" fill="#64a6f6" stroke="#46597a" stroke-width="0.6"/>
<circle cx="365.15" cy="515.9" r="1.4" fill="#5a9ff3" stroke="#22529e" stroke-width="0.6"/>
<circle cx="368.5" cy="520" r="1.4" fill="#5a9ff3" stroke="#22529e" stroke-width="0.6"/>
<circle cx="371.51" cy="521.4" r="1.4" fill="#5a9ff3" stroke="#22529e" stroke-width="0.6"/>
<circle cx="365.22" cy="523.5" r="1.4" fill="#5a9ff3" stroke="#22529e" stroke-width="0.6"/>
<circle cx="368.03" cy="525.5" r="1.4" fill="#5a9ff3" stroke="#22529e" stroke-width="0.6"/>
<circle cx="371.48" cy="527.6" r="1.4" fill="#5a9ff3" stroke="#22529e" stroke-width="0.6"/>
<circle cx="365.61" cy="522.4" r="1.4" fill="#5a9ff3" stroke="#22529e" stroke-width="0.6"/>
<circle cx="367.76" cy="524.5" r="1.4" fill="#5a9ff3" stroke="#22529e" stroke-width="0.6"/>
<circle cx="370.52" cy="519" r="1.4" fill="#5a9ff3" stroke="#22529e" stroke-width="0.6"/>
<line x1="368.15" y1="519.4" x2="368.15" y2="523.4" stroke="#1d3f73" stroke-width="0.7"/>
<line x1="365.55" y1="519.4" x2="370.75" y2="519.4" stroke="#1d3f73" stroke-width="0.7"/>
<line x1="365.55" y1="523.4" x2="370.75" y2="523.4" stroke="#1d3f73" stroke-width="0.7"/>
<rect x="376.3" y="519.4" width="10.3" height="23.1" fill="#f17a82" stroke="#5e4246" stroke-width="0.6"/>
<rect x="377.05" y="509.8" width="2.8" height="2.8" fill="#ef707b" stroke="#6a2b32" stroke-width="0.6"/>
<rect x="380.49" y="514.5" width="2.8" height="2.8" fill="#ef707b" stroke="#6a2b32" stroke-width="0.6"/>
<rect x="383" y="515.9" width="2.8" height="2.8" fill="#ef707b" stroke="#6a2b32" stroke-width="0.6"/>
<rect x="377.05" y="518.6" width="2.8" height="2.8" fill="#ef707b" stroke="#6a2b32" stroke-width="0.6"/>
<rect x="380.41" y="520.6" width="2.8" height="2.8" fill="#ef707b" stroke="#6a2b32" stroke-width="0.6"/>
<rect x="383.19" y="523.1" width="2.8" height="2.8" fill="#ef707b" stroke="#6a2b32" stroke-width="0.6"/>
<rect x="377.61" y="525.1" width="2.8" height="2.8" fill="#ef707b" stroke="#6a2b32" stroke-width="0.6"/>
<rect x="379.89" y="516.6" width="2.8" height="2.8" fill="#ef707b" stroke="#6a2b32" stroke-width="0.6"/>
<line x1="381.45" y1="516.9" x2="381.45" y2="521.9" stroke="#3a1a1a" stroke-width="0.7"/>
<line x1="378.85" y1="516.9" x2="384.05" y2="516.9" stroke="#3a1a1a" stroke-width="0.7"/>
<line x1="378.85" y1="521.9" x2="384.05" y2="521.9" stroke="#3a1a1a" stroke-width="0.7"/>
<rect x="399.8" y="514.7" width="10.3" height="27.8" fill="#64a6f6" stroke="#46597a" stroke-width="0.6"/>
<circle cx="402.39" cy="509.8" r="1.4" fill="#5a9ff3" stroke="#22529e" stroke-width="0.6"/>
<circle cx="404.55" cy="511.8" r="1.4" fill="#5a9ff3" stroke="#22529e" stroke-width="0.6"/>
<circle cx="407.04" cy="513.9" r="1.4" fill="#5a9ff3" stroke="#22529e" stroke-width="0.6"/>
<circle cx="402.85" cy="515.9" r="1.4" fill="#5a9ff3" stroke="#22529e" stroke-width="0.6"/>
<circle cx="405.11" cy="517.9" r="1.4" fill="#5a9ff3" stroke="#22529e" stroke-width="0.6"/>
<circle cx="407.59" cy="520.4" r="1.4" fill="#5a9ff3" stroke="#22529e" stroke-width="0.6"/>
<circle cx="402.81" cy="512" r="1.4" fill="#5a9ff3" stroke="#22529e" stroke-width="0.6"/>
<line x1="404.95" y1="512.9" x2="404.95" y2="516.5" stroke="#1d3f73" stroke-width="0.7"/>
<line x1="402.35" y1="512.9" x2="407.55" y2="512.9" stroke="#1d3f73" stroke-width="0.7"/>
<line x1="402.35" y1="516.5" x2="407.55" y2="516.5" stroke="#1d3f73" stroke-width="0.7"/>
<rect x="412.7" y="502.4" width="10.2" height="40.1" fill="#f17a82" stroke="#5e4246" stroke-width="0.6"/>
<rect x="413.74" y="496.1" width="2.8" height="2.8" fill="#ef707b" stroke="#6a2b32" stroke-width="0.6"/>
<rect x="416.8" y="500.2" width="2.8" height="2.8" fill="#ef707b" stroke="#6a2b32" stroke-width="0.6"/>
<rect x="419.34" y="502.2" width="2.8" height="2.8" fill="#ef707b" stroke="#6a2b32" stroke-width="0.6"/>
<rect x="413.5" y="504.3" width="2.8" height="2.8" fill="#ef707b" stroke="#6a2b32" stroke-width="0.6"/>
<rect x="416.13" y="507.8" width="2.8" height="2.8" fill="#ef707b" stroke="#6a2b32" stroke-width="0.6"/>
<rect x="418.77" y="511.8" width="2.8" height="2.8" fill="#ef707b" stroke="#6a2b32" stroke-width="0.6"/>
<rect x="413.53" y="501.1" width="2.8" height="2.8" fill="#ef707b" stroke="#6a2b32" stroke-width="0.6"/>
<line x1="417.8" y1="499.9" x2="417.8" y2="504.9" stroke="#3a1a1a" stroke-width="0.7"/>
<line x1="415.2" y1="499.9" x2="420.4" y2="499.9" stroke="#3a1a1a" stroke-width="0.7"/>
<line x1="415.2" y1="504.9" x2="420.4" y2="504.9" stroke="#3a1a1a" stroke-width="0.7"/>
<line x1="357.5" y1="542.5" x2="428.8" y2="542.5" stroke="#2e2e2e" stroke-width="1"/>
<line x1="374.6" y1="542.5" x2="374.6" y2="545.1" stroke="#2e2e2e" stroke-width="1"/>
<line x1="411.4" y1="542.5" x2="411.4" y2="545.1" stroke="#2e2e2e" stroke-width="1"/>
<text x="372" y="554.98" font-size="8.12" text-anchor="middle" fill="#1e1e1e" transform="matrix(1,0,0,1.07,0,-38.65)">Day 1</text>
<text x="413" y="554.98" font-size="8.12" text-anchor="middle" fill="#1e1e1e" transform="matrix(1,0,0,1.07,0,-38.65)">Day 3</text>
<line x1="402.2" y1="482.2" x2="417.5" y2="482.2" stroke="#1a1a1a" stroke-width="0.9"/>
<text x="410.35" y="480.4" font-size="9" text-anchor="middle" fill="#1e1e1e" transform="matrix(1,0,0,1.07,0,-33.41)" letter-spacing="0.6">**</text>
<circle cx="436.5" cy="464.8" r="1.5" fill="#5a9ff3" stroke="#22529e" stroke-width="0.6"/>
<rect x="435" y="477.4" width="3" height="3" fill="#ef707b" stroke="#6a2b32" stroke-width="0.6"/>
<text x="443.8" y="468.48" font-size="8.12" text-anchor="start" fill="#1e1e1e" transform="matrix(1,0,0,1.07,0,-32.59)"><tspan font-style="italic">Foxo1</tspan> flox</text>
<text x="443.8" y="482.08" font-size="8.12" text-anchor="start" fill="#1e1e1e" transform="matrix(1,0,0,1.07,0,-33.55)"><tspan font-style="italic">Foxo1</tspan> cKO</text>
<text x="1.2" y="581.5" font-size="9.6" text-anchor="start" font-weight="bold" fill="#1e1e1e" transform="matrix(1,0,0,1.07,0,-40.47)">G</text>
<line x1="59.4" y1="593" x2="59.4" y2="664" stroke="#2e2e2e" stroke-width="1"/>
<line x1="56.8" y1="593" x2="59.4" y2="593" stroke="#2e2e2e" stroke-width="1"/>
<text x="56.5" y="596.38" font-size="9.54" text-anchor="end" fill="#1e1e1e" transform="matrix(1,0,0,1.12,0,-71.17)">83</text>
<line x1="56.8" y1="610.75" x2="59.4" y2="610.75" stroke="#2e2e2e" stroke-width="1"/>
<text x="56.5" y="614.13" font-size="9.54" text-anchor="end" fill="#1e1e1e" transform="matrix(1,0,0,1.12,0,-73.3)">81</text>
<line x1="56.8" y1="628.5" x2="59.4" y2="628.5" stroke="#2e2e2e" stroke-width="1"/>
<text x="56.5" y="631.88" font-size="9.54" text-anchor="end" fill="#1e1e1e" transform="matrix(1,0,0,1.12,0,-75.43)">79</text>
<line x1="56.8" y1="646.25" x2="59.4" y2="646.25" stroke="#2e2e2e" stroke-width="1"/>
<text x="56.5" y="649.63" font-size="9.54" text-anchor="end" fill="#1e1e1e" transform="matrix(1,0,0,1.12,0,-77.56)">77</text>
<line x1="56.8" y1="664" x2="59.4" y2="664" stroke="#2e2e2e" stroke-width="1"/>
<text x="56.5" y="667.38" font-size="9.54" text-anchor="end" fill="#1e1e1e" transform="matrix(1,0,0,1.12,0,-79.69)">75</text>
<text x="38.34" y="627" font-size="8.12" text-anchor="middle" fill="#1e1e1e" transform="rotate(-90 38.34 627)">Brain water content (%)</text>
<rect x="65.7" y="598.1" width="7.9" height="65.9" fill="#64a6f6" stroke="#46597a" stroke-width="0.6"/>
<circle cx="67.68" cy="594.1" r="1.3" fill="#5a9ff3" stroke="#22529e" stroke-width="0.6"/>
<circle cx="69.45" cy="595.7" r="1.3" fill="#5a9ff3" stroke="#22529e" stroke-width="0.6"/>
<circle cx="71.62" cy="599.7" r="1.3" fill="#5a9ff3" stroke="#22529e" stroke-width="0.6"/>
<circle cx="67.3" cy="602.1" r="1.3" fill="#5a9ff3" stroke="#22529e" stroke-width="0.6"/>
<circle cx="70" cy="606.1" r="1.3" fill="#5a9ff3" stroke="#22529e" stroke-width="0.6"/>
<circle cx="71.57" cy="597" r="1.3" fill="#5a9ff3" stroke="#22529e" stroke-width="0.6"/>
<line x1="69.65" y1="596.1" x2="69.65" y2="600.1" stroke="#1d3f73" stroke-width="0.7"/>
<line x1="67.1" y1="596.1" x2="72.2" y2="596.1" stroke="#1d3f73" stroke-width="0.7"/>
<line x1="67.1" y1="600.1" x2="72.2" y2="600.1" stroke="#1d3f73" stroke-width="0.7"/>
<rect x="75.8" y="616.9" width="7.7" height="47.1" fill="#f17a82" stroke="#5e4246" stroke-width="0.6"/>
<rect x="76.32" y="603.7" width="2.6" height="2.6" fill="#ef707b" stroke="#6a2b32" stroke-width="0.6"/>
<rect x="78.42" y="615.3" width="2.6" height="2.6" fill="#ef707b" stroke="#6a2b32" stroke-width="0.6"/>
<rect x="80.68" y="618.5" width="2.6" height="2.6" fill="#ef707b" stroke="#6a2b32" stroke-width="0.6"/>
<rect x="76.29" y="620.9" width="2.6" height="2.6" fill="#ef707b" stroke="#6a2b32" stroke-width="0.6"/>
<rect x="78.7" y="616.7" width="2.6" height="2.6" fill="#ef707b" stroke="#6a2b32" stroke-width="0.6"/>
<line x1="79.65" y1="614.9" x2="79.65" y2="618.9" stroke="#3a1a1a" stroke-width="0.7"/>
<line x1="77.16" y1="614.9" x2="82.14" y2="614.9" stroke="#3a1a1a" stroke-width="0.7"/>
<line x1="77.16" y1="618.9" x2="82.14" y2="618.9" stroke="#3a1a1a" stroke-width="0.7"/>
<rect x="93.7" y="629.1" width="7.8" height="34.9" fill="#64a6f6" stroke="#46597a" stroke-width="0.6"/>
<circle cx="95.59" cy="620.6" r="1.3" fill="#5a9ff3" stroke="#22529e" stroke-width="0.6"/>
<circle cx="97.63" cy="626.2" r="1.3" fill="#5a9ff3" stroke="#22529e" stroke-width="0.6"/>
<circle cx="99.64" cy="627" r="1.3" fill="#5a9ff3" stroke="#22529e" stroke-width="0.6"/>
<circle cx="95.18" cy="635.8" r="1.3" fill="#5a9ff3" stroke="#22529e" stroke-width="0.6"/>
<circle cx="97.55" cy="638.3" r="1.3" fill="#5a9ff3" stroke="#22529e" stroke-width="0.6"/>
<line x1="97.6" y1="626.9" x2="97.6" y2="631.3" stroke="#1d3f73" stroke-width="0.7"/>
<line x1="95.08" y1="626.9" x2="100.12" y2="626.9" stroke="#1d3f73" stroke-width="0.7"/>
<line x1="95.08" y1="631.3" x2="100.12" y2="631.3" stroke="#1d3f73" stroke-width="0.7"/>
<rect x="104" y="635.8" width="7.5" height="28.2" fill="#f17a82" stroke="#5e4246" stroke-width="0.6"/>
<rect x="104.25" y="627.3" width="2.6" height="2.6" fill="#ef707b" stroke="#6a2b32" stroke-width="0.6"/>
<rect x="106.05" y="633.7" width="2.6" height="2.6" fill="#ef707b" stroke="#6a2b32" stroke-width="0.6"/>
<rect x="108.64" y="636.1" width="2.6" height="2.6" fill="#ef707b" stroke="#6a2b32" stroke-width="0.6"/>
<rect x="104.24" y="637.7" width="2.6" height="2.6" fill="#ef707b" stroke="#6a2b32" stroke-width="0.6"/>
<rect x="106.43" y="631.7" width="2.6" height="2.6" fill="#ef707b" stroke="#6a2b32" stroke-width="0.6"/>
<line x1="107.75" y1="634.3" x2="107.75" y2="637.3" stroke="#3a1a1a" stroke-width="0.7"/>
<line x1="105.32" y1="634.3" x2="110.18" y2="634.3" stroke="#3a1a1a" stroke-width="0.7"/>
<line x1="105.32" y1="637.3" x2="110.18" y2="637.3" stroke="#3a1a1a" stroke-width="0.7"/>
<rect x="122.1" y="649.5" width="7.7" height="14.5" fill="#64a6f6" stroke="#46597a" stroke-width="0.6"/>
<circle cx="124.14" cy="643" r="1.3" fill="#5a9ff3" stroke="#22529e" stroke-width="0.6"/>
<circle cx="126" cy="643.9" r="1.3" fill="#5a9ff3" stroke="#22529e" stroke-width="0.6"/>
<circle cx="127.8" cy="647.9" r="1.3" fill="#5a9ff3" stroke="#22529e" stroke-width="0.6"/>
<circle cx="123.97" cy="650.3" r="1.3" fill="#5a9ff3" stroke="#22529e" stroke-width="0.6"/>
<circle cx="126" cy="660" r="1.3" fill="#5a9ff3" stroke="#22529e" stroke-width="0.6"/>
<line x1="125.95" y1="647.5" x2="125.95" y2="651.5" stroke="#1d3f73" stroke-width="0.7"/>
<line x1="123.46" y1="647.5" x2="128.44" y2="647.5" stroke="#1d3f73" stroke-width="0.7"/>
<line x1="123.46" y1="651.5" x2="128.44" y2="651.5" stroke="#1d3f73" stroke-width="0.7"/>
<rect x="132.4" y="655.1" width="7.5" height="8.9" fill="#f17a82" stroke="#5e4246" stroke-width="0.6"/>
<rect x="133.14" y="647.4" width="2.6" height="2.6" fill="#ef707b" stroke="#6a2b32" stroke-width="0.6"/>
<rect x="134.53" y="649.8" width="2.6" height="2.6" fill="#ef707b" stroke="#6a2b32" stroke-width="0.6"/>
<rect x="136.84" y="652.2" width="2.6" height="2.6" fill="#ef707b" stroke="#6a2b32" stroke-width="0.6"/>
<rect x="132.7" y="655.4" width="2.6" height="2.6" fill="#ef707b" stroke="#6a2b32" stroke-width="0.6"/>
<rect x="134.67" y="658.7" width="2.6" height="2.6" fill="#ef707b" stroke="#6a2b32" stroke-width="0.6"/>
<rect x="137.01" y="660.2" width="2.6" height="2.6" fill="#ef707b" stroke="#6a2b32" stroke-width="0.6"/>
<line x1="136.15" y1="653.3" x2="136.15" y2="656.9" stroke="#3a1a1a" stroke-width="0.7"/>
<line x1="133.72" y1="653.3" x2="138.58" y2="653.3" stroke="#3a1a1a" stroke-width="0.7"/>
<line x1="133.72" y1="656.9" x2="138.58" y2="656.9" stroke="#3a1a1a" stroke-width="0.7"/>
<line x1="59.4" y1="664" x2="146.5" y2="664" stroke="#2e2e2e" stroke-width="1"/>
<line x1="74.2" y1="664" x2="74.2" y2="666.6" stroke="#2e2e2e" stroke-width="1"/>
<line x1="102.4" y1="664" x2="102.4" y2="666.6" stroke="#2e2e2e" stroke-width="1"/>
<line x1="130.8" y1="664" x2="130.8" y2="666.6" stroke="#2e2e2e" stroke-width="1"/>
<text x="76.5" y="674.8" font-size="8.12" text-anchor="end" fill="#1e1e1e" transform="rotate(-45 76.5 674.8)">Ipsilateral</text>
<text x="104.7" y="674.8" font-size="8.12" text-anchor="end" fill="#1e1e1e" transform="rotate(-45 104.7 674.8)">Contralateral</text>
<text x="133.1" y="674.8" font-size="8.12" text-anchor="end" fill="#1e1e1e" transform="rotate(-45 133.1 674.8)">Cerebellum</text>
<text x="103.6" y="581.2" font-size="8" text-anchor="middle" font-weight="bold" fill="#1e1e1e" transform="matrix(1,0,0,1.07,0,-40.49)">Day 3</text>
<line x1="67.8" y1="590.4" x2="81.1" y2="590.4" stroke="#1a1a1a" stroke-width="0.9"/>
<text x="74.95" y="591.2" font-size="9" text-anchor="middle" fill="#1e1e1e" transform="matrix(1,0,0,1.07,0,-41.16)" letter-spacing="0.6">**</text>
<circle cx="145.4" cy="586" r="1.5" fill="#5a9ff3" stroke="#22529e" stroke-width="0.6"/>
<rect x="143.9" y="597.1" width="3" height="3" fill="#ef707b" stroke="#6a2b32" stroke-width="0.6"/>
<text x="153" y="588.88" font-size="8.12" text-anchor="start" fill="#1e1e1e" transform="matrix(1,0,0,1.07,0,-41.02)"><tspan font-style="italic">Foxo1</tspan> flox</text>
<text x="153" y="601.48" font-size="8.12" text-anchor="start" fill="#1e1e1e" transform="matrix(1,0,0,1.07,0,-41.9)"><tspan font-style="italic">Foxo1</tspan> cKO</text>
<text x="227.4" y="581.3" font-size="9.6" text-anchor="start" font-weight="bold" fill="#1e1e1e" transform="matrix(1,0,0,1.07,0,-40.46)">H</text>
<text x="315.5" y="583" font-size="8" text-anchor="middle" font-weight="bold" fill="#1e1e1e" transform="matrix(1,0,0,1.07,0,-40.61)">Day 3</text>
<line x1="284.4" y1="596" x2="284.4" y2="667.2" stroke="#2e2e2e" stroke-width="1"/>
<line x1="281.8" y1="596" x2="284.4" y2="596" stroke="#2e2e2e" stroke-width="1"/>
<text x="281.2" y="599.38" font-size="9.54" text-anchor="end" fill="#1e1e1e" transform="matrix(1,0,0,1.12,0,-71.53)">30</text>
<line x1="281.8" y1="619.73" x2="284.4" y2="619.73" stroke="#2e2e2e" stroke-width="1"/>
<text x="281.2" y="623.12" font-size="9.54" text-anchor="end" fill="#1e1e1e" transform="matrix(1,0,0,1.12,0,-74.37)">20</text>
<line x1="281.8" y1="643.47" x2="284.4" y2="643.47" stroke="#2e2e2e" stroke-width="1"/>
<text x="281.2" y="646.85" font-size="9.54" text-anchor="end" fill="#1e1e1e" transform="matrix(1,0,0,1.12,0,-77.22)">10</text>
<line x1="281.8" y1="667.2" x2="284.4" y2="667.2" stroke="#2e2e2e" stroke-width="1"/>
<text x="281.2" y="670.58" font-size="9.54" text-anchor="end" fill="#1e1e1e" transform="matrix(1,0,0,1.12,0,-80.07)">0</text>
<text x="252.94" y="623" font-size="8.12" text-anchor="middle" fill="#1e1e1e" transform="rotate(-90 252.94 623)" xml:space="preserve">Percentage of  microglia</text>
<text x="263.34" y="623" font-size="8.12" text-anchor="middle" fill="#1e1e1e" transform="rotate(-90 263.34 623)">(%)</text>
<rect x="290.3" y="629.1" width="8.3" height="38.1" fill="#64a6f6" stroke="#46597a" stroke-width="0.6"/>
<circle cx="292.32" cy="619.8" r="1.4" fill="#5a9ff3" stroke="#22529e" stroke-width="0.6"/>
<circle cx="294.5" cy="622.7" r="1.4" fill="#5a9ff3" stroke="#22529e" stroke-width="0.6"/>
<circle cx="296.82" cy="627" r="1.4" fill="#5a9ff3" stroke="#22529e" stroke-width="0.6"/>
<circle cx="292.68" cy="629.4" r="1.4" fill="#5a9ff3" stroke="#22529e" stroke-width="0.6"/>
<circle cx="294.4" cy="633.4" r="1.4" fill="#5a9ff3" stroke="#22529e" stroke-width="0.6"/>
<circle cx="296.69" cy="642.3" r="1.4" fill="#5a9ff3" stroke="#22529e" stroke-width="0.6"/>
<line x1="294.45" y1="626.7" x2="294.45" y2="631.5" stroke="#1d3f73" stroke-width="0.7"/>
<line x1="291.85" y1="626.7" x2="297.05" y2="626.7" stroke="#1d3f73" stroke-width="0.7"/>
<line x1="291.85" y1="631.5" x2="297.05" y2="631.5" stroke="#1d3f73" stroke-width="0.7"/>
<rect x="300.8" y="645" width="7.7" height="22.2" fill="#f17a82" stroke="#5e4246" stroke-width="0.6"/>
<rect x="301.26" y="640.1" width="2.8" height="2.8" fill="#ef707b" stroke="#6a2b32" stroke-width="0.6"/>
<rect x="303.26" y="642.5" width="2.8" height="2.8" fill="#ef707b" stroke="#6a2b32" stroke-width="0.6"/>
<rect x="305.4" y="644.1" width="2.8" height="2.8" fill="#ef707b" stroke="#6a2b32" stroke-width="0.6"/>
<rect x="301.22" y="645.7" width="2.8" height="2.8" fill="#ef707b" stroke="#6a2b32" stroke-width="0.6"/>
<rect x="303.28" y="652.1" width="2.8" height="2.8" fill="#ef707b" stroke="#6a2b32" stroke-width="0.6"/>
<line x1="304.65" y1="643.4" x2="304.65" y2="646.6" stroke="#3a1a1a" stroke-width="0.7"/>
<line x1="302.16" y1="643.4" x2="307.14" y2="643.4" stroke="#3a1a1a" stroke-width="0.7"/>
<line x1="302.16" y1="646.6" x2="307.14" y2="646.6" stroke="#3a1a1a" stroke-width="0.7"/>
<rect x="318.8" y="613" width="7.9" height="54.2" fill="#64a6f6" stroke="#46597a" stroke-width="0.6"/>
<circle cx="320.69" cy="600.5" r="1.4" fill="#5a9ff3" stroke="#22529e" stroke-width="0.6"/>
<circle cx="323.13" cy="612.6" r="1.4" fill="#5a9ff3" stroke="#22529e" stroke-width="0.6"/>
<circle cx="324.96" cy="614.2" r="1.4" fill="#5a9ff3" stroke="#22529e" stroke-width="0.6"/>
<circle cx="321.03" cy="621.1" r="1.4" fill="#5a9ff3" stroke="#22529e" stroke-width="0.6"/>
<circle cx="323.13" cy="621.7" r="1.4" fill="#5a9ff3" stroke="#22529e" stroke-width="0.6"/>
<line x1="322.75" y1="609.8" x2="322.75" y2="616.2" stroke="#1d3f73" stroke-width="0.7"/>
<line x1="320.2" y1="609.8" x2="325.3" y2="609.8" stroke="#1d3f73" stroke-width="0.7"/>
<line x1="320.2" y1="616.2" x2="325.3" y2="616.2" stroke="#1d3f73" stroke-width="0.7"/>
<rect x="328.8" y="628" width="7.7" height="39.2" fill="#f17a82" stroke="#5e4246" stroke-width="0.6"/>
<rect x="329.06" y="622.4" width="2.8" height="2.8" fill="#ef707b" stroke="#6a2b32" stroke-width="0.6"/>
<rect x="331.3" y="624" width="2.8" height="2.8" fill="#ef707b" stroke="#6a2b32" stroke-width="0.6"/>
<rect x="333.61" y="626.4" width="2.8" height="2.8" fill="#ef707b" stroke="#6a2b32" stroke-width="0.6"/>
<rect x="329.54" y="630.4" width="2.8" height="2.8" fill="#ef707b" stroke="#6a2b32" stroke-width="0.6"/>
<rect x="330.95" y="638.5" width="2.8" height="2.8" fill="#ef707b" stroke="#6a2b32" stroke-width="0.6"/>
<line x1="332.65" y1="626.2" x2="332.65" y2="629.8" stroke="#3a1a1a" stroke-width="0.7"/>
<line x1="330.16" y1="626.2" x2="335.14" y2="626.2" stroke="#3a1a1a" stroke-width="0.7"/>
<line x1="330.16" y1="629.8" x2="335.14" y2="629.8" stroke="#3a1a1a" stroke-width="0.7"/>
<line x1="284.4" y1="667.2" x2="344" y2="667.2" stroke="#2e2e2e" stroke-width="1"/>
<line x1="299.4" y1="667.2" x2="299.4" y2="669.8" stroke="#2e2e2e" stroke-width="1"/>
<line x1="327.6" y1="667.2" x2="327.6" y2="669.8" stroke="#2e2e2e" stroke-width="1"/>
<text x="299.2" y="678.22" font-size="8.53" text-anchor="middle" fill="#1e1e1e" transform="matrix(1,0,0,1.07,0,-47.27)">IL-1β</text>
<text x="327.7" y="678.02" font-size="8.53" text-anchor="middle" fill="#1e1e1e" transform="matrix(1,0,0,1.07,0,-47.25)">TNF-α</text>
<line x1="293.3" y1="612.6" x2="306.6" y2="612.6" stroke="#1a1a1a" stroke-width="0.9"/>
<text x="300.45" y="613.4" font-size="9" text-anchor="middle" fill="#1e1e1e" transform="matrix(1,0,0,1.07,0,-42.72)" letter-spacing="0.6">**</text>
<line x1="320.9" y1="593.8" x2="334.1" y2="593.8" stroke="#1a1a1a" stroke-width="0.9"/>
<text x="328" y="594.6" font-size="9" text-anchor="middle" fill="#1e1e1e" transform="matrix(1,0,0,1.07,0,-41.4)" letter-spacing="0.6">**</text>
<circle cx="351.8" cy="581.6" r="1.5" fill="#5a9ff3" stroke="#22529e" stroke-width="0.6"/>
<rect x="350.3" y="592.3" width="3" height="3" fill="#ef707b" stroke="#6a2b32" stroke-width="0.6"/>
<text x="359" y="584.68" font-size="8.12" text-anchor="start" fill="#1e1e1e" transform="matrix(1,0,0,1.07,0,-40.73)"><tspan font-style="italic">Foxo1</tspan> flox</text>
<text x="359" y="596.68" font-size="8.12" text-anchor="start" fill="#1e1e1e" transform="matrix(1,0,0,1.07,0,-41.57)"><tspan font-style="italic">Foxo1</tspan> cKO</text>
</svg>
</body></html>
